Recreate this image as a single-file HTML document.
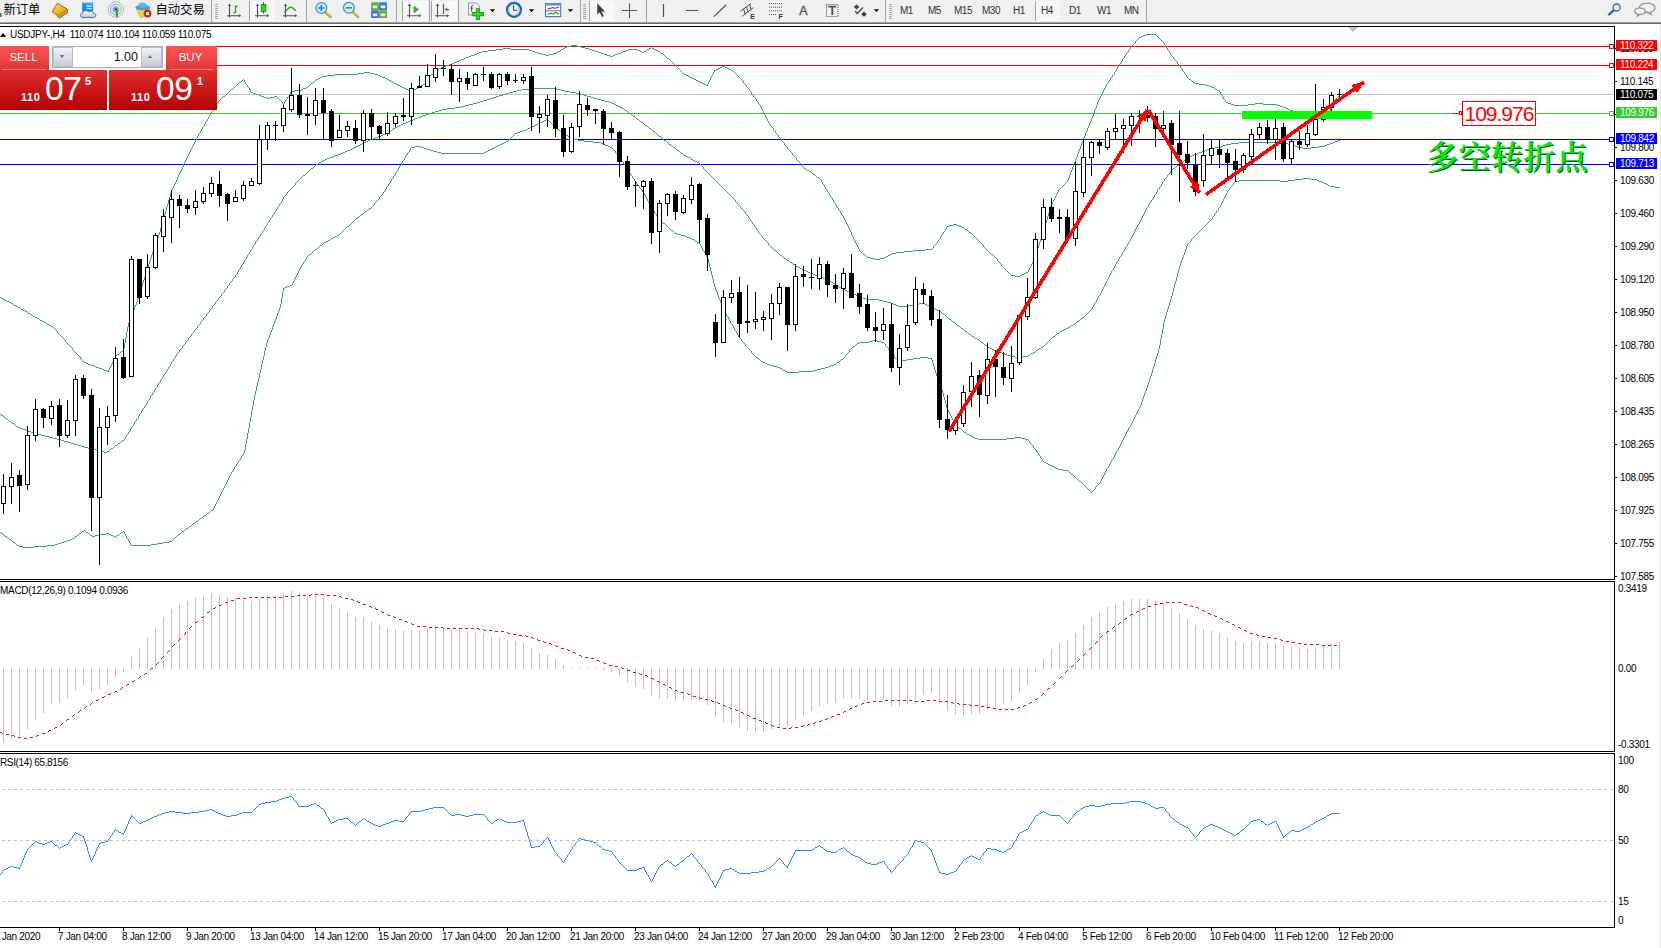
<!DOCTYPE html>
<html><head><meta charset="utf-8"><title>USDJPY-,H4</title>
<style>
html,body{margin:0;padding:0;background:#fff;}
body{width:1661px;height:948px;position:relative;overflow:hidden;font-family:"Liberation Sans","Noto Sans CJK SC",sans-serif;color:#000;}
.abs{position:absolute;white-space:nowrap;}
.ax{position:absolute;white-space:nowrap;font-size:10px;line-height:10px;left:1620px;letter-spacing:-0.3px;}
.tag{position:absolute;left:1616px;width:41px;height:11px;color:#fff;font-size:10px;line-height:11px;text-align:left;padding-left:4px;padding-top:0px;box-sizing:border-box;letter-spacing:-0.3px;white-space:nowrap;}
.tm{position:absolute;top:931px;font-size:10px;line-height:11px;letter-spacing:-0.33px;white-space:nowrap;}
.tf{position:absolute;top:5px;font-size:10px;line-height:11px;letter-spacing:-0.5px;color:#303030;white-space:nowrap;}
#tb{position:absolute;left:0;top:0;width:1661px;height:26px;background:#f0f0f0;}
.sep{position:absolute;top:0px;width:1px;height:22px;background:#a0a0a0;}
.grip{position:absolute;top:3px;width:3px;height:17px;background:repeating-linear-gradient(#f0f0f0 0 1px,#a8a8a8 1px 2px);}
</style></head><body>

<div id="tb">
<div style="position:absolute;left:0;top:22px;width:1661px;height:1px;background:#a0a0a0"></div>
<div style="position:absolute;left:0;top:23px;width:1661px;height:1px;background:#696969"></div>
<div style="position:absolute;left:0;top:24px;width:1661px;height:2px;background:#fff"></div>
<div class="abs" style="left:3.5px;top:2.5px;font-size:12.3px;line-height:14px;">新订单</div>
<div class="abs" style="left:155.5px;top:2.5px;font-size:12.3px;line-height:14px;">自动交易</div>
<div class="sep" style="left:211px"></div>
<div class="sep" style="left:306px"></div>
<div class="sep" style="left:396px"></div>
<div class="sep" style="left:429px"></div>
<div class="sep" style="left:458px"></div>
<div class="sep" style="left:580px"></div>
<div class="sep" style="left:646px"></div>
<div class="sep" style="left:885px"></div>
<div class="sep" style="left:1146px"></div>
<div class="grip" style="left:215px"></div>
<div class="grip" style="left:583px"></div>
<div class="grip" style="left:889px"></div>
<div style="position:absolute;left:249px;top:1px;width:26px;height:20px;background:#f8f8f8;border-left:1px solid #a0a0a0;box-sizing:border-box"></div>
<div style="position:absolute;left:402px;top:1px;width:26px;height:20px;background:#f8f8f8;border-left:1px solid #a0a0a0;box-sizing:border-box"></div>
<div style="position:absolute;left:431px;top:1px;width:26px;height:20px;background:#f8f8f8;border-left:1px solid #a0a0a0;box-sizing:border-box"></div>
<div style="position:absolute;left:589px;top:1px;width:25px;height:20px;background:#f8f8f8;border-left:1px solid #a0a0a0;box-sizing:border-box"></div>
<div style="position:absolute;left:1035px;top:1px;width:25px;height:20px;background:#f8f8f8;border-left:1px solid #a0a0a0;box-sizing:border-box"></div>
<div class="tf" style="left:900px">M1</div>
<div class="tf" style="left:928px">M5</div>
<div class="tf" style="left:954px">M15</div>
<div class="tf" style="left:982px">M30</div>
<div class="tf" style="left:1013px">H1</div>
<div class="tf" style="left:1041px">H4</div>
<div class="tf" style="left:1069px">D1</div>
<div class="tf" style="left:1097px">W1</div>
<div class="tf" style="left:1124px">MN</div>
</div>
<svg class="abs" style="left:0;top:0" width="1661" height="948" viewBox="0 0 1661 948" shape-rendering="crispEdges">
<rect x="0" y="46" width="1614" height="1" fill="#ff0000"/>
<rect x="0" y="65" width="1614" height="1" fill="#ff0000"/>
<rect x="0" y="94" width="1614" height="1" fill="#c0c0c0"/>
<rect x="0" y="113" width="1614" height="1" fill="#32cd32"/>
<rect x="0" y="139" width="1614" height="1" fill="#0000ff"/>
<rect x="0" y="164" width="1614" height="1" fill="#0000ff"/>
<g shape-rendering="crispEdges">
<path d="M0 297.5h1M1 298.5h2M3 299.5h2M5 300.5h2M7 301.5h2M9 302.5h2M11 303.5h2M13 304.5h1M14 305.5h2M16 306.5h2M18 307.5h2M20 308.5h1M21 309.5h2M23 310.5h2M25 311.5h2M27 312.5h1M28 313.5h2M30 314.5h2M32 315.5h1M33 316.5h2M35 317.5h2M37 318.5h2M39 319.5h1M40 320.5h2M42 321.5h2M44 322.5h2M46 323.5h1M47 324.5h2M49 325.5h2M51 326.5h2M53 327.5h1M54 328.5h1M55 329.5h1M56 330.5h1M57.5 331v2M58 333.5h1M59 334.5h1M60 335.5h1M61 336.5h1M62 337.5h1M63 338.5h1M64 339.5h1M65.5 340v2M66 342.5h1M67 343.5h1M68 344.5h1M69 345.5h1M70 346.5h1M71 347.5h1M72.5 348v2M73 350.5h1M74 351.5h1M75 352.5h1M76 353.5h1M77 354.5h1M78 355.5h1M79 356.5h1M80.5 357v2M81 359.5h1M82 360.5h1M83 361.5h1M84 362.5h2M86 363.5h2M88 364.5h3M91 365.5h3M94 366.5h2M96 367.5h3M99 368.5h3M102 369.5h2M104 370.5h3M107 371.5h2M108 370.5h1M109.5 368v2M110.5 366v2M111.5 364v2M112.5 362v2M113.5 360v2M114.5 358v2M115.5 356v2M116 355.5h1M117 354.5h2M119 353.5h1M120 352.5h1M121 351.5h2M123.5 348v3M124.5 343v5M125.5 338v5M126.5 332v6M127.5 327v5M128.5 323v4M129.5 321v2M130.5 318v3M131.5 315v3M132.5 313v2M133.5 310v3M134.5 307v3M135.5 305v2M136.5 302v3M137.5 299v3M138.5 296v3M139.5 293v3M140.5 289v4M141.5 286v3M142.5 283v3M143.5 280v3M144.5 277v3M145.5 273v4M146.5 270v3M147.5 267v3M148.5 264v3M149.5 261v3M150.5 258v3M151.5 255v3M152.5 252v3M153.5 250v2M154.5 247v3M155.5 244v3M156.5 241v3M157.5 238v3M158.5 235v3M159.5 232v3M160.5 228v4M161.5 225v3M162.5 221v4M163.5 218v3M164.5 214v4M165.5 211v3M166.5 207v4M167.5 204v3M168.5 200v4M169.5 197v3M170.5 193v4M171.5 190v3M172.5 188v2M173.5 186v2M174.5 184v2M175.5 182v2M176.5 180v2M177.5 177v3M178.5 175v2M179.5 173v2M180.5 171v2M181.5 169v2M182.5 167v2M183.5 164v3M184.5 162v2M185.5 160v2M186.5 158v2M187.5 156v2M188.5 154v2M189.5 152v2M190.5 150v2M191.5 148v2M192.5 146v2M193.5 144v2M194.5 142v2M195.5 140v2M196.5 138v2M197.5 136v2M198.5 134v2M199 133.5h1M200.5 131v2M201.5 129v2M202.5 127v2M203 126.5h1M204.5 124v2M205.5 122v2M206 121.5h1M207.5 119v2M208.5 117v2M209.5 115v2M210 114.5h1M211.5 112v2M212 111.5h1M213.5 109v2M214 108.5h1M215.5 106v2M216.5 104v2M217 103.5h1M218.5 101v2M219 100.5h1M220 99.5h1M221 98.5h1M222 97.5h1M223 96.5h2M225 95.5h1M226 94.5h1M227 93.5h1M228 92.5h1M229 91.5h1M230 90.5h1M231 89.5h2M233 88.5h1M234 87.5h1M235 86.5h1M236 85.5h1M237 84.5h1M238 83.5h1M239 82.5h2M241 81.5h1M242 80.5h1M243 79.5h1M244.5 80v2M245.5 82v2M246 84.5h1M247.5 85v2M248 87.5h1M249.5 88v2M250.5 90v2M251 92.5h2M253 93.5h3M256 94.5h3M259 95.5h2M261 96.5h3M264 97.5h3M267 98.5h3M270 97.5h4M274 96.5h3M277 97.5h1M278 98.5h1M279 99.5h1M280 100.5h1M281 101.5h1M282.5 102v2M283 104.5h1M284.5 102v2M285.5 100v2M286 99.5h1M287.5 97v2M288 96.5h1M289.5 94v2M290.5 92v2M291 91.5h4M295 90.5h6M301 89.5h2M303 88.5h3M306 87.5h2M308 86.5h1M309 85.5h1M310 84.5h1M311 83.5h2M313 82.5h1M314 81.5h1M315 80.5h1M316 79.5h2M318 78.5h2M320 77.5h2M322 76.5h5M327 75.5h8M335 74.5h23M358 73.5h6M364 72.5h6M370 73.5h4M374 74.5h4M378 75.5h2M380 76.5h2M382 77.5h3M385 78.5h2M387 79.5h2M389 80.5h2M391 81.5h2M393 82.5h1M394 83.5h2M396 84.5h2M398 85.5h2M400 86.5h2M402 87.5h2M404 88.5h2M406 89.5h2M408 90.5h4M412 89.5h4M416 88.5h2M418 87.5h2M420 86.5h1M421 85.5h2M423 84.5h2M425 83.5h1M426.5 81v2M427 80.5h1M428.5 78v2M429.5 76v2M430 75.5h1M431 74.5h2M433 73.5h1M434 72.5h1M435 71.5h2M437 70.5h1M438 69.5h1M439 68.5h2M441 67.5h2M443 66.5h3M446 65.5h3M449 64.5h3M452 63.5h2M454 62.5h3M457 61.5h2M459 60.5h2M461 59.5h3M464 58.5h2M466 57.5h3M469 56.5h2M471 55.5h3M474 54.5h3M477 53.5h2M479 52.5h3M482 51.5h6M488 50.5h8M496 49.5h7M503 48.5h8M511 49.5h18M529 50.5h3M532 51.5h3M535 52.5h3M538 53.5h4M542 54.5h4M546 55.5h3M549 54.5h4M553 53.5h3M556 52.5h2M558 51.5h2M560 50.5h1M561 49.5h2M563 48.5h2M565 47.5h2M567 46.5h4M571 45.5h6M577 46.5h4M581 47.5h4M585 48.5h4M589 49.5h3M592 50.5h3M595 51.5h3M598 52.5h3M601 53.5h3M604 54.5h3M607 55.5h3M610 56.5h3M613 55.5h2M615 54.5h3M618 53.5h3M621 52.5h2M623 51.5h3M626 50.5h2M628 49.5h10M638 50.5h2M640 51.5h2M642 52.5h2M644 51.5h2M646 50.5h1M647 49.5h2M649 48.5h2M651 47.5h1M652 48.5h2M654 49.5h2M656 50.5h2M658 51.5h2M660 52.5h1M661 53.5h2M663 54.5h1M664 55.5h1M665 56.5h1M666 57.5h1M667 58.5h2M669 59.5h1M670 60.5h1M671 61.5h1M672 62.5h1M673 63.5h1M674 64.5h1M675 65.5h1M676 66.5h1M677 67.5h1M678 68.5h1M679 69.5h1M680 70.5h1M681 71.5h1M682 72.5h1M683 73.5h1M684 74.5h2M686 75.5h2M688 76.5h2M690 77.5h2M692 78.5h2M694 79.5h2M696 80.5h2M698 81.5h2M700 82.5h2M702 83.5h2M704 84.5h2M706 85.5h2M707 84.5h1M708.5 82v2M709.5 80v2M710.5 78v2M711.5 76v2M712.5 74v2M713.5 72v2M714.5 70v2M715 70.5h1M716 69.5h2M718 68.5h2M720 67.5h2M722 66.5h3M725 67.5h2M727 68.5h2M729 69.5h2M731 70.5h2M733 71.5h1M734 72.5h1M735 73.5h1M736 74.5h1M737 75.5h1M738 76.5h1M739 77.5h1M740 78.5h1M741 79.5h1M742 80.5h1M743.5 81v2M744 83.5h1M745 84.5h1M746.5 85v2M747 87.5h1M748 88.5h1M749.5 89v2M750 91.5h1M751.5 92v2M752 94.5h1M753.5 95v2M754 97.5h1M755 98.5h1M756.5 99v2M757 101.5h1M758.5 102v2M759 104.5h1M760.5 105v2M761.5 107v2M762.5 109v2M763.5 111v2M764.5 113v2M765.5 115v2M766.5 117v2M767.5 119v2M768.5 121v2M769 123.5h1M770.5 124v2M771 126.5h1M772 127.5h1M773.5 128v2M774 130.5h1M775.5 131v2M776 133.5h1M777 134.5h1M778.5 135v2M779 137.5h1M780 138.5h1M781.5 139v2M782 141.5h1M783 142.5h1M784.5 143v2M785 145.5h1M786 146.5h1M787.5 147v2M788 149.5h1M789 150.5h1M790 151.5h1M791 152.5h1M792.5 153v2M793 155.5h1M794 156.5h1M795 157.5h1M796.5 158v2M797 160.5h1M798 161.5h1M799 162.5h1M800 163.5h1M801.5 164v2M802 166.5h1M803 167.5h1M804 168.5h2M806 169.5h1M807 170.5h2M809 171.5h2M811 172.5h1M812 173.5h1M813 174.5h2M815 175.5h1M816 176.5h1M817 177.5h2M819 178.5h1M820 179.5h1M821.5 180v2M822.5 182v2M823 184.5h1M824.5 185v2M825.5 187v2M826 189.5h1M827.5 190v2M828 192.5h1M829.5 193v2M830.5 195v2M831 197.5h1M832.5 198v2M833.5 200v2M834 202.5h1M835.5 203v2M836.5 205v2M837 207.5h1M838.5 208v2M839 210.5h1M840.5 211v2M841.5 213v2M842 215.5h1M843.5 216v2M844.5 218v2M845.5 220v2M846.5 222v2M847.5 224v2M848.5 226v2M849.5 228v2M850.5 230v2M851.5 232v3M852.5 235v2M853.5 237v2M854.5 239v2M855.5 241v2M856.5 243v2M857.5 245v2M858.5 247v2M859.5 249v2M860 251.5h1M861 252.5h1M862 253.5h1M863 254.5h2M865 255.5h1M866 256.5h1M867 257.5h3M870 258.5h5M875 259.5h5M880 258.5h4M884 257.5h2M886 256.5h2M888 255.5h2M890 254.5h2M892 253.5h4M896 252.5h8M904 251.5h9M913 250.5h12M925 249.5h7M932 248.5h1M933.5 246v2M934 245.5h1M935 244.5h1M936 243.5h1M937.5 241v2M938 240.5h1M939 239.5h1M940.5 237v2M941.5 235v2M942 234.5h1M943.5 232v2M944 231.5h1M945.5 229v2M946.5 227v2M947 226.5h2M949 225.5h4M953 224.5h4M957 225.5h2M959 226.5h3M962 227.5h2M964 228.5h1M965 229.5h2M967 230.5h1M968 231.5h1M969 232.5h2M971 233.5h1M972 234.5h1M973 235.5h1M974 236.5h1M975 237.5h1M976 238.5h1M977 239.5h1M978 240.5h1M979 241.5h1M980 242.5h1M981 243.5h1M982 244.5h1M983.5 245v2M984 247.5h1M985 248.5h1M986 249.5h1M987 250.5h1M988 251.5h1M989 252.5h1M990 253.5h1M991 254.5h2M993 255.5h1M994 256.5h1M995 257.5h1M996 258.5h1M997.5 259v2M998 261.5h1M999 262.5h1M1000 263.5h1M1001.5 264v2M1002 266.5h1M1003 267.5h1M1004 268.5h1M1005 269.5h1M1006 270.5h1M1007 271.5h1M1008 272.5h1M1009 273.5h1M1010 274.5h1M1011 275.5h4M1015 276.5h5M1020 275.5h2M1022 274.5h2M1024 273.5h2M1026 272.5h2M1028.5 270v2M1029.5 268v2M1030.5 266v2M1031.5 264v2M1032.5 262v2M1033.5 259v3M1034.5 256v3M1035.5 254v2M1036.5 251v3M1037.5 248v3M1038.5 245v3M1039.5 242v3M1040.5 239v3M1041.5 236v3M1042.5 233v3M1043.5 230v3M1044.5 226v4M1045.5 223v3M1046.5 220v3M1047.5 216v4M1048.5 213v3M1049.5 210v3M1050.5 206v4M1051.5 204v2M1052.5 202v2M1053.5 200v2M1054.5 198v2M1055.5 196v2M1056.5 194v2M1057.5 192v2M1058.5 190v2M1059 189.5h1M1060 188.5h1M1061 187.5h1M1062 186.5h1M1063 185.5h1M1064 184.5h1M1065 183.5h1M1066 182.5h1M1067.5 180v2M1068.5 178v2M1069.5 175v3M1070.5 172v3M1071.5 170v2M1072.5 167v3M1073.5 164v3M1074.5 162v2M1075.5 159v3M1076.5 157v2M1077.5 154v3M1078.5 151v3M1079.5 149v2M1080.5 146v3M1081.5 143v3M1082.5 141v2M1083.5 138v3M1084.5 136v2M1085.5 133v3M1086.5 131v2M1087.5 128v3M1088.5 126v2M1089.5 123v3M1090.5 121v2M1091.5 118v3M1092.5 116v2M1093.5 113v3M1094.5 110v3M1095.5 108v2M1096.5 105v3M1097.5 102v3M1098.5 100v2M1099.5 98v2M1100.5 96v2M1101.5 94v2M1102.5 92v2M1103.5 90v2M1104.5 88v2M1105.5 86v2M1106.5 84v2M1107 83.5h1M1108.5 81v2M1109 80.5h1M1110.5 78v2M1111 77.5h1M1112.5 75v2M1113 74.5h1M1114.5 72v2M1115 71.5h1M1116.5 69v2M1117.5 67v2M1118 66.5h1M1119.5 64v2M1120 63.5h1M1121.5 61v2M1122.5 59v2M1123 58.5h1M1124.5 56v2M1125 55.5h1M1126.5 53v2M1127 52.5h1M1128.5 50v2M1129 49.5h1M1130.5 47v2M1131 46.5h1M1132 45.5h1M1133 44.5h1M1134 43.5h1M1135.5 41v2M1136 40.5h1M1137 39.5h1M1138 38.5h1M1139 37.5h2M1141 36.5h2M1143 35.5h3M1146 34.5h10M1156 35.5h1M1157 36.5h1M1158 37.5h1M1159 38.5h1M1160 39.5h1M1161 40.5h1M1162 41.5h1M1163 42.5h1M1164.5 43v2M1165.5 45v2M1166 47.5h1M1167.5 48v2M1168 50.5h1M1169.5 51v2M1170.5 53v2M1171 55.5h1M1172 56.5h1M1173.5 57v2M1174 59.5h1M1175 60.5h1M1176 61.5h1M1177.5 62v2M1178 64.5h1M1179 65.5h1M1180.5 66v2M1181 68.5h1M1182.5 69v2M1183 71.5h1M1184.5 72v2M1185 74.5h1M1186.5 75v2M1187 77.5h1M1188 78.5h1M1189 79.5h2M1191 80.5h1M1192 81.5h1M1193 82.5h2M1195 83.5h4M1199 84.5h6M1205 85.5h4M1209 86.5h3M1212 87.5h2M1214 88.5h1M1215 89.5h2M1217 90.5h2M1219 91.5h1M1220.5 92v2M1221 94.5h1M1222.5 95v2M1223.5 97v2M1224 99.5h1M1225.5 100v2M1226 102.5h2M1228 103.5h3M1231 104.5h3M1234 105.5h14M1248 104.5h7M1255 103.5h8M1263 104.5h14M1277 105.5h3M1280 106.5h3M1283 107.5h3M1286 108.5h2M1288 109.5h2M1290 110.5h3M1293 111.5h4M1297 112.5h4M1301 113.5h11M1312 114.5h11M1323 113.5h4M1327 112.5h3M1329 111.5h1M1330.5 108v3M1331.5 106v2M1332.5 104v2M1333.5 102v2M1334.5 100v2M1335 99.5h1M1336 98.5h1M1337 97.5h1M1338 96.5h1M1339 95.5h1" fill="none" stroke="#2fab64" stroke-width="1"/>
<path d="M0 414.5h1M1 415.5h2M3 416.5h1M4 417.5h1M5 418.5h2M7 419.5h1M8 420.5h1M9 421.5h2M11 422.5h1M12 423.5h2M14 424.5h1M15 425.5h1M16 426.5h2M18 427.5h2M20 428.5h3M23 429.5h3M26 430.5h2M28 431.5h3M31 432.5h3M34 433.5h3M37 434.5h4M41 435.5h4M45 436.5h4M49 437.5h4M53 438.5h4M57 439.5h4M61 440.5h3M64 441.5h4M68 442.5h3M71 443.5h3M74 444.5h4M78 445.5h3M81 446.5h3M84 447.5h4M88 448.5h4M92 449.5h4M96 450.5h4M100 451.5h4M104 452.5h3M107 451.5h2M109 450.5h1M110 449.5h1M111 448.5h2M113 447.5h1M114 446.5h1M115 445.5h2M117 444.5h1M118 443.5h2M120 442.5h1M121 441.5h1M122 440.5h2M124 439.5h1M125.5 437v2M126.5 435v2M127 434.5h1M128.5 432v2M129 431.5h1M130.5 429v2M131.5 427v2M132 426.5h1M133.5 424v2M134.5 422v2M135 421.5h1M136.5 419v2M137 418.5h1M138.5 416v2M139.5 414v2M140 413.5h1M141.5 411v2M142.5 409v2M143 408.5h1M144.5 406v2M145 405.5h1M146.5 403v2M147.5 401v2M148 400.5h1M149.5 398v2M150.5 396v2M151 395.5h1M152.5 393v2M153 392.5h1M154.5 390v2M155.5 388v2M156 387.5h1M157.5 385v2M158.5 383v2M159 382.5h1M160.5 380v2M161 379.5h1M162.5 377v2M163.5 375v2M164 374.5h1M165.5 372v2M166 371.5h1M167.5 369v2M168.5 367v2M169 366.5h1M170.5 364v2M171.5 362v2M172 361.5h1M173.5 359v2M174 358.5h1M175.5 356v2M176.5 354v2M177 353.5h1M178 352.5h1M179.5 350v2M180 349.5h1M181 348.5h1M182.5 346v2M183 345.5h1M184 344.5h1M185.5 342v2M186 341.5h1M187 340.5h1M188.5 338v2M189 337.5h1M190 336.5h1M191.5 334v2M192 333.5h1M193 332.5h1M194.5 330v2M195 329.5h1M196 328.5h1M197.5 326v2M198 325.5h1M199 324.5h1M200.5 322v2M201 321.5h1M202 320.5h1M203.5 318v2M204 317.5h1M205 316.5h1M206.5 314v2M207 313.5h1M208 312.5h1M209.5 310v2M210 309.5h1M211 308.5h1M212.5 306v2M213 305.5h1M214 304.5h1M215.5 302v2M216 301.5h1M217 300.5h1M218.5 298v2M219 297.5h1M220 296.5h1M221.5 294v2M222 293.5h1M223 292.5h1M224.5 290v2M225 289.5h1M226 288.5h1M227.5 286v2M228 285.5h1M229.5 283v2M230 282.5h1M231 281.5h1M232.5 279v2M233 278.5h1M234 277.5h1M235.5 275v2M236 274.5h1M237.5 272v2M238.5 270v2M239 269.5h1M240.5 267v2M241.5 265v2M242 264.5h1M243.5 262v2M244.5 260v2M245 259.5h1M246.5 257v2M247.5 255v2M248 254.5h1M249.5 252v2M250.5 250v2M251 249.5h1M252.5 247v2M253.5 245v2M254 244.5h1M255.5 242v2M256 241.5h1M257.5 239v2M258.5 237v2M259 236.5h1M260.5 234v2M261 233.5h1M262.5 231v2M263 230.5h1M264.5 228v2M265.5 226v2M266 225.5h1M267.5 223v2M268 222.5h1M269.5 220v2M270.5 218v2M271 217.5h1M272.5 215v2M273 214.5h1M274.5 212v2M275 211.5h1M276.5 209v2M277.5 207v2M278 206.5h1M279.5 204v2M280 203.5h1M281.5 201v2M282.5 199v2M283.5 197v2M284 196.5h1M285 195.5h1M286 194.5h1M287.5 192v2M288 191.5h1M289 190.5h1M290 189.5h1M291 188.5h1M292 187.5h1M293 186.5h1M294 185.5h1M295.5 183v2M296 182.5h1M297 181.5h1M298 180.5h1M299 179.5h1M300 178.5h1M301 177.5h1M302 176.5h1M303 175.5h2M305 174.5h1M306 173.5h1M307 172.5h1M308 171.5h1M309 170.5h1M310 169.5h1M311 168.5h2M313 167.5h1M314 166.5h1M315 165.5h1M316 164.5h2M318 163.5h1M319 162.5h2M321 161.5h2M323 160.5h2M325 159.5h2M327 158.5h3M330 157.5h3M333 156.5h2M335 155.5h3M338 154.5h3M341 153.5h2M343 152.5h2M345 151.5h2M347 150.5h3M350 149.5h2M352 148.5h2M354 147.5h2M356 146.5h2M358 145.5h2M360 144.5h2M362 143.5h2M364 142.5h2M366 141.5h2M368 140.5h2M370 139.5h3M373 138.5h2M375 137.5h3M378 136.5h3M381 135.5h2M383 134.5h3M386 133.5h2M388 132.5h1M389 131.5h2M391 130.5h1M392 129.5h1M393 128.5h2M395 127.5h2M397 126.5h2M399 125.5h2M401 124.5h2M403 123.5h3M406 122.5h2M408 121.5h2M410 120.5h3M413 119.5h2M415 118.5h3M418 117.5h3M421 116.5h2M423 115.5h3M426 114.5h3M429 113.5h3M432 112.5h3M435 111.5h4M439 110.5h3M442 109.5h5M447 108.5h8M455 107.5h6M461 106.5h4M465 105.5h4M469 104.5h4M473 103.5h4M477 102.5h3M480 101.5h3M483 100.5h4M487 99.5h3M490 98.5h3M493 97.5h3M496 96.5h3M499 95.5h4M503 94.5h3M506 93.5h3M509 92.5h4M513 91.5h4M517 90.5h4M521 89.5h9M530 88.5h27M557 89.5h4M561 90.5h4M565 91.5h5M570 92.5h6M576 93.5h5M581 94.5h3M584 95.5h3M587 96.5h4M591 97.5h3M594 98.5h3M597 99.5h4M601 100.5h4M605 101.5h4M609 102.5h3M612 103.5h2M614 104.5h2M616 105.5h2M618 106.5h2M620 107.5h2M622 108.5h2M624 109.5h1M625 110.5h2M627 111.5h1M628 112.5h1M629 113.5h2M631 114.5h1M632 115.5h1M633 116.5h2M635 117.5h1M636 118.5h1M637 119.5h2M639 120.5h1M640 121.5h1M641 122.5h2M643 123.5h1M644 124.5h1M645 125.5h2M647 126.5h1M648 127.5h1M649 128.5h2M651 129.5h1M652 130.5h1M653 131.5h2M655 132.5h1M656 133.5h1M657 134.5h1M658 135.5h1M659 136.5h2M661 137.5h1M662 138.5h1M663 139.5h1M664 140.5h2M666 141.5h1M667 142.5h1M668 143.5h1M669 144.5h2M671 145.5h1M672 146.5h1M673 147.5h2M675 148.5h1M676 149.5h1M677 150.5h2M679 151.5h1M680 152.5h1M681 153.5h2M683 154.5h1M684 155.5h2M686 156.5h2M688 157.5h2M690 158.5h1M691 159.5h2M693 160.5h2M695 161.5h2M697 162.5h2M699 163.5h1M700 164.5h1M701 165.5h1M702 166.5h1M703.5 167v2M704 169.5h1M705 170.5h1M706 171.5h1M707 172.5h1M708 173.5h1M709 174.5h1M710 175.5h1M711 176.5h1M712 177.5h1M713 178.5h1M714 179.5h1M715 180.5h1M716 181.5h1M717 182.5h1M718 183.5h1M719 184.5h1M720 185.5h1M721 186.5h1M722 187.5h1M723 188.5h1M724 189.5h1M725 190.5h1M726 191.5h1M727 192.5h1M728 193.5h1M729 194.5h1M730 195.5h1M731 196.5h1M732 197.5h1M733 198.5h1M734 199.5h1M735.5 200v2M736 202.5h1M737 203.5h1M738 204.5h1M739 205.5h1M740.5 206v2M741 208.5h1M742 209.5h1M743 210.5h1M744 211.5h1M745.5 212v2M746 214.5h1M747 215.5h1M748.5 216v2M749 218.5h1M750.5 219v2M751 221.5h1M752.5 222v2M753 224.5h1M754.5 225v2M755 227.5h1M756.5 228v2M757 230.5h1M758.5 231v2M759 233.5h1M760 234.5h1M761 235.5h1M762.5 236v2M763 238.5h1M764 239.5h1M765 240.5h1M766 241.5h1M767 242.5h1M768.5 243v2M769 245.5h1M770 246.5h1M771 247.5h1M772 248.5h1M773 249.5h1M774 250.5h2M776 251.5h1M777 252.5h1M778 253.5h1M779 254.5h1M780 255.5h2M782 256.5h1M783 257.5h1M784 258.5h2M786 259.5h1M787 260.5h2M789 261.5h1M790 262.5h2M792 263.5h1M793 264.5h2M795 265.5h1M796 266.5h2M798 267.5h2M800 268.5h2M802 269.5h2M804 270.5h2M806 271.5h2M808 272.5h2M810 273.5h3M813 274.5h2M815 275.5h3M818 276.5h3M821 277.5h2M823 278.5h3M826 279.5h2M828 280.5h2M830 281.5h1M831 282.5h2M833 283.5h2M835 284.5h1M836 285.5h2M838 286.5h1M839 287.5h2M841 288.5h2M843 289.5h2M845 290.5h2M847 291.5h2M849 292.5h2M851 293.5h3M854 294.5h2M856 295.5h2M858 296.5h3M861 297.5h2M863 298.5h3M866 299.5h13M879 300.5h4M883 301.5h4M887 302.5h4M891 303.5h2M893 304.5h3M896 305.5h2M898 306.5h11M909 305.5h4M913 304.5h6M919 303.5h6M925 304.5h2M927 305.5h3M930 306.5h2M932 307.5h2M934 308.5h1M935 309.5h2M937 310.5h2M939 311.5h2M941 312.5h1M942 313.5h1M943 314.5h2M945 315.5h1M946 316.5h1M947 317.5h1M948 318.5h1M949 319.5h2M951 320.5h1M952 321.5h1M953 322.5h2M955 323.5h1M956 324.5h1M957 325.5h2M959 326.5h1M960 327.5h1M961 328.5h2M963 329.5h1M964 330.5h1M965 331.5h2M967 332.5h1M968 333.5h1M969 334.5h2M971 335.5h1M972 336.5h2M974 337.5h1M975 338.5h2M977 339.5h2M979 340.5h1M980 341.5h1M981 342.5h2M983 343.5h1M984 344.5h1M985 345.5h2M987 346.5h1M988 347.5h2M990 348.5h2M992 349.5h2M994 350.5h3M997 351.5h2M999 352.5h3M1002 353.5h3M1005 354.5h2M1007 355.5h3M1010 356.5h5M1015 357.5h8M1023 356.5h5M1028 355.5h2M1030 354.5h1M1031 353.5h2M1033 352.5h2M1035 351.5h1M1036 350.5h2M1038 349.5h1M1039 348.5h2M1041 347.5h2M1043 346.5h1M1044 345.5h1M1045 344.5h1M1046 343.5h1M1047 342.5h1M1048 341.5h1M1049 340.5h1M1050 339.5h1M1051 338.5h1M1052 337.5h1M1053 336.5h2M1055 335.5h1M1056 334.5h1M1057 333.5h2M1059 332.5h1M1060 331.5h2M1062 330.5h2M1064 329.5h2M1066 328.5h2M1068 327.5h2M1070 326.5h1M1071 325.5h2M1073 324.5h2M1075 323.5h1M1076 322.5h1M1077 321.5h2M1079 320.5h1M1080 319.5h1M1081 318.5h2M1083 317.5h1M1084 316.5h1M1085 315.5h1M1086 314.5h1M1087 313.5h1M1088 312.5h1M1089 311.5h1M1090 310.5h1M1091 309.5h1M1092.5 307v2M1093.5 305v2M1094.5 303v2M1095 302.5h1M1096.5 300v2M1097.5 298v2M1098.5 296v2M1099 295.5h1M1100.5 293v2M1101.5 291v2M1102.5 289v2M1103.5 287v2M1104.5 285v2M1105.5 283v2M1106.5 281v2M1107.5 279v2M1108.5 277v2M1109.5 275v2M1110.5 273v2M1111.5 271v2M1112 270.5h1M1113.5 268v2M1114.5 266v2M1115.5 264v2M1116.5 262v2M1117 261.5h1M1118.5 259v2M1119.5 257v2M1120 256.5h1M1121.5 254v2M1122.5 252v2M1123 251.5h1M1124.5 249v2M1125.5 247v2M1126 246.5h1M1127.5 244v2M1128.5 242v2M1129 241.5h1M1130.5 239v2M1131.5 237v2M1132.5 235v2M1133.5 233v2M1134.5 231v2M1135.5 229v2M1136.5 227v2M1137.5 225v2M1138 224.5h1M1139.5 222v2M1140.5 220v2M1141.5 218v2M1142.5 216v2M1143.5 214v2M1144.5 212v2M1145.5 210v2M1146.5 208v2M1147 207.5h1M1148.5 205v2M1149.5 203v2M1150 202.5h1M1151.5 200v2M1152 199.5h1M1153.5 197v2M1154.5 195v2M1155 194.5h1M1156.5 192v2M1157.5 190v2M1158 189.5h1M1159.5 187v2M1160 186.5h1M1161.5 184v2M1162.5 182v2M1163 181.5h1M1164.5 179v2M1165 178.5h1M1166 177.5h1M1167.5 175v2M1168 174.5h1M1169 173.5h1M1170.5 171v2M1171 170.5h1M1172 169.5h1M1173 168.5h2M1175 167.5h1M1176 166.5h1M1177 165.5h2M1179 164.5h1M1180 163.5h1M1181 162.5h2M1183 161.5h1M1184 160.5h1M1185 159.5h2M1187 158.5h1M1188 157.5h2M1190 156.5h2M1192 155.5h2M1194 154.5h3M1197 153.5h2M1199 152.5h3M1202 151.5h3M1205 150.5h2M1207 149.5h3M1210 148.5h5M1215 147.5h6M1221 146.5h2M1223 145.5h3M1226 144.5h5M1231 143.5h8M1239 142.5h41M1280 143.5h8M1288 144.5h5M1293 145.5h2M1295 146.5h3M1298 147.5h5M1303 148.5h8M1311 147.5h8M1319 146.5h6M1325 145.5h2M1327 144.5h3M1330 143.5h3M1333 142.5h2M1335 141.5h3M1338 140.5h2" fill="none" stroke="#2fab64" stroke-width="1"/>
<path d="M0 532.5h1M1 533.5h2M3 534.5h1M4 535.5h1M5 536.5h2M7 537.5h1M8 538.5h1M9 539.5h2M11 540.5h1M12 541.5h1M13 542.5h2M15 543.5h1M16 544.5h1M17 545.5h2M19 546.5h4M23 547.5h11M34 546.5h13M47 545.5h8M55 544.5h3M58 543.5h3M61 542.5h3M64 541.5h3M67 540.5h3M70 539.5h2M72 538.5h2M74 537.5h1M75 536.5h2M77 535.5h1M78 534.5h1M79 533.5h2M81 532.5h1M82 531.5h2M84 530.5h1M85 531.5h1M86 532.5h2M88 533.5h1M89 534.5h1M90 535.5h2M92 536.5h3M95 535.5h5M100 534.5h6M106 533.5h3M109 534.5h2M111 535.5h2M113 536.5h2M115 537.5h1M116 536.5h1M117 535.5h2M119 534.5h1M120 533.5h1M121 532.5h2M123 531.5h1M124.5 532v2M125.5 534v2M126.5 536v2M127 538.5h1M128.5 539v2M129.5 541v2M130.5 543v2M131 545.5h20M151 544.5h6M157 543.5h6M163 542.5h6M169 541.5h3M172 540.5h1M173 539.5h1M174 538.5h1M175 537.5h1M176 536.5h1M177 535.5h1M178 534.5h2M180 533.5h1M181 532.5h1M182 531.5h2M184 530.5h1M185 529.5h1M186 528.5h2M188 527.5h1M189 526.5h2M191 525.5h1M192 524.5h1M193 523.5h2M195 522.5h1M196 521.5h2M198 520.5h1M199 519.5h1M200 518.5h2M202 517.5h1M203 516.5h1M204 515.5h2M206 514.5h1M207 513.5h2M209 512.5h1M210 511.5h1M211 510.5h2M213.5 508v2M214.5 506v2M215.5 504v2M216.5 502v2M217.5 500v2M218.5 498v2M219.5 496v2M220.5 494v2M221.5 492v2M222.5 490v2M223.5 488v2M224.5 486v2M225.5 484v2M226.5 482v2M227.5 480v2M228.5 478v2M229.5 476v2M230.5 474v2M231.5 472v2M232 471.5h1M233.5 469v2M234.5 467v2M235 466.5h1M236.5 464v2M237 463.5h1M238.5 461v2M239 460.5h1M240.5 458v2M241.5 456v2M242 455.5h1M243.5 453v2M244.5 450v3M245.5 444v6M246.5 439v5M247.5 433v6M248.5 428v5M249.5 422v6M250.5 417v5M251.5 411v6M252.5 406v5M253.5 400v6M254.5 395v5M255.5 391v4M256.5 386v5M257.5 382v4M258.5 378v4M259.5 373v5M260.5 369v4M261.5 364v5M262.5 360v4M263.5 356v4M264.5 351v5M265.5 347v4M266.5 343v4M267.5 340v3M268.5 338v2M269.5 335v3M270.5 332v3M271.5 330v2M272.5 327v3M273.5 324v3M274.5 321v3M275.5 319v2M276.5 316v3M277.5 313v3M278.5 311v2M279.5 308v3M280.5 304v4M281.5 298v6M282.5 292v6M283.5 288v4M284 288.5h1M285 287.5h2M287 286.5h3M290 285.5h2M292.5 283v2M293.5 281v2M294.5 279v2M295.5 277v2M296.5 275v2M297.5 273v2M298.5 271v2M299.5 269v2M300.5 267v2M301.5 265v2M302 264.5h1M303.5 262v2M304 261.5h1M305.5 259v2M306.5 257v2M307 256.5h1M308 255.5h1M309 254.5h2M311 253.5h1M312 252.5h1M313 251.5h1M314 250.5h1M315 249.5h2M317 248.5h1M318 247.5h1M319 246.5h1M320 245.5h2M322 244.5h1M323 243.5h1M324 242.5h2M326 241.5h2M328 240.5h2M330 239.5h1M331 238.5h2M333 237.5h2M335 236.5h2M337 235.5h2M339 234.5h1M340 233.5h1M341 232.5h1M342 231.5h1M343 230.5h1M344 229.5h1M345 228.5h1M346 227.5h1M347 226.5h2M349 225.5h1M350 224.5h1M351 223.5h1M352 222.5h1M353 221.5h1M354 220.5h1M355 219.5h1M356 218.5h1M357 217.5h2M359 216.5h1M360 215.5h1M361 214.5h2M363 213.5h1M364 212.5h1M365 211.5h2M367 210.5h1M368 209.5h1M369 208.5h2M371 207.5h1M372 206.5h1M373 205.5h1M374.5 203v2M375 202.5h1M376 201.5h1M377 200.5h1M378 199.5h1M379.5 197v2M380 196.5h1M381 195.5h1M382 194.5h1M383.5 192v2M384 191.5h1M385.5 189v2M386.5 187v2M387 186.5h1M388.5 184v2M389 183.5h1M390.5 181v2M391.5 179v2M392 178.5h1M393.5 176v2M394 175.5h1M395.5 173v2M396.5 171v2M397 170.5h1M398.5 168v2M399.5 166v2M400 165.5h1M401.5 163v2M402.5 161v2M403 160.5h1M404.5 158v2M405.5 156v2M406 155.5h1M407.5 153v2M408 152.5h1M409.5 150v2M410.5 148v2M411 147.5h4M415 146.5h6M421 147.5h3M424 148.5h3M427 149.5h3M430 150.5h3M433 151.5h4M437 152.5h4M441 153.5h43M484 152.5h2M486 151.5h2M488 150.5h2M490 149.5h2M492 148.5h2M494 147.5h2M496 146.5h2M498 145.5h2M500 144.5h2M502 143.5h2M504 142.5h2M506 141.5h2M508 140.5h1M509 139.5h1M510 138.5h1M511 137.5h1M512 136.5h1M513 135.5h1M514 134.5h1M515 133.5h2M517 132.5h3M520 131.5h3M523 130.5h3M526 129.5h2M528 128.5h2M530 127.5h2M532 126.5h2M534 125.5h2M536 124.5h2M538 123.5h2M540 122.5h2M542 121.5h2M544 120.5h2M546 119.5h2M548 120.5h1M549 121.5h1M550 122.5h1M551 123.5h1M552 124.5h1M553 125.5h1M554 126.5h1M555 127.5h1M556 128.5h1M557 129.5h2M559 130.5h1M560 131.5h1M561 132.5h2M563 133.5h1M564 134.5h2M566 135.5h2M568 136.5h2M570 137.5h2M572 138.5h2M574 139.5h4M578 140.5h6M584 141.5h9M593 142.5h8M601 143.5h2M603 144.5h2M605 145.5h3M608 146.5h2M610 147.5h2M612 148.5h1M613 149.5h1M614 150.5h1M615.5 151v2M616 153.5h1M617 154.5h1M618 155.5h1M619 156.5h1M620.5 157v2M621.5 159v2M622 161.5h1M623.5 162v2M624 164.5h1M625.5 165v2M626.5 167v2M627 169.5h1M628.5 170v2M629 172.5h1M630.5 173v2M631 175.5h1M632.5 176v2M633 178.5h1M634.5 179v2M635 181.5h1M636.5 182v2M637 184.5h1M638 185.5h1M639.5 186v2M640 188.5h1M641 189.5h1M642.5 190v2M643 192.5h1M644.5 193v2M645.5 195v2M646.5 197v2M647.5 199v2M648.5 201v2M649.5 203v2M650.5 205v2M651 207.5h1M652.5 208v2M653 210.5h1M654.5 211v2M655 213.5h1M656.5 214v2M657 216.5h1M658.5 217v2M659 219.5h1M660 220.5h1M661 221.5h1M662 222.5h1M663 223.5h2M665 224.5h1M666 225.5h1M667 226.5h1M668 227.5h1M669 228.5h1M670 229.5h1M671 230.5h2M673 231.5h1M674 232.5h1M675 233.5h2M677 234.5h4M681 235.5h4M685 236.5h2M687 237.5h3M690 238.5h2M692 239.5h2M694 240.5h1M695 241.5h2M697 242.5h2M699 243.5h1M700.5 244v2M701.5 246v2M702.5 248v2M703 250.5h1M704.5 251v2M705.5 253v2M706.5 255v2M707.5 257v2M708.5 259v4M709.5 263v4M710.5 267v4M711.5 271v4M712.5 275v4M713.5 279v4M714.5 283v4M715.5 287v3M716.5 290v2M717.5 292v3M718.5 295v3M719.5 298v2M720.5 300v3M721.5 303v3M722.5 306v2M723.5 308v2M724.5 310v2M725.5 312v2M726.5 314v2M727 316.5h1M728.5 317v2M729.5 319v2M730.5 321v2M731 323.5h1M732.5 324v2M733.5 326v2M734.5 328v2M735 330.5h1M736.5 331v2M737.5 333v2M738.5 335v2M739 337.5h1M740 338.5h1M741.5 339v2M742 341.5h1M743 342.5h1M744 343.5h1M745.5 344v2M746 346.5h1M747 347.5h1M748 348.5h1M749 349.5h1M750 350.5h1M751.5 351v2M752 353.5h1M753 354.5h1M754 355.5h1M755 356.5h1M756 357.5h1M757 358.5h2M759 359.5h1M760 360.5h1M761 361.5h2M763 362.5h2M765 363.5h2M767 364.5h3M770 365.5h3M773 366.5h4M777 367.5h3M780 368.5h2M782 369.5h1M783 370.5h2M785 371.5h2M787 372.5h12M799 371.5h14M813 370.5h4M817 369.5h4M821 368.5h4M825 367.5h4M829 366.5h2M831 365.5h3M834 364.5h2M836 363.5h1M837 362.5h2M839 361.5h1M840 360.5h1M841 359.5h2M843 358.5h1M844 357.5h1M845.5 355v2M846 354.5h1M847 353.5h1M848 352.5h1M849.5 350v2M850 349.5h1M851 348.5h1M852 347.5h1M853 346.5h2M855 345.5h1M856 344.5h1M857 343.5h2M859 342.5h10M869 341.5h4M873 340.5h4M877 341.5h4M881 342.5h3M884 343.5h1M885.5 344v2M886 346.5h1M887 347.5h1M888.5 348v2M889 350.5h1M890 351.5h1M891.5 352v2M892 354.5h1M893 355.5h1M894.5 356v2M895 358.5h3M898 359.5h4M902 360.5h5M907 359.5h6M913 358.5h7M920 357.5h8M928 358.5h4M931 359.5h1M932.5 360v3M933.5 363v3M934.5 366v4M935.5 370v3M936.5 373v3M937.5 376v3M938.5 379v3M939.5 382v2M940.5 384v3M941.5 387v3M942.5 390v3M943.5 393v4M944.5 397v3M945.5 400v4M946.5 404v4M947.5 408v2M948.5 410v2M949.5 412v2M950.5 414v2M951.5 416v2M952.5 418v2M953.5 420v2M954.5 422v2M955 424.5h1M956 425.5h1M957 426.5h1M958 427.5h1M959 428.5h2M961 429.5h1M962 430.5h1M963 431.5h1M964 432.5h2M966 433.5h1M967 434.5h2M969 435.5h2M971 436.5h2M973 437.5h2M975 438.5h3M978 439.5h29M1007 438.5h8M1015 437.5h6M1021 438.5h4M1025 439.5h3M1028 440.5h1M1029.5 441v2M1030 443.5h1M1031 444.5h1M1032 445.5h1M1033.5 446v2M1034 448.5h1M1035 449.5h1M1036.5 450v2M1037 452.5h1M1038.5 453v2M1039 455.5h1M1040.5 456v2M1041 458.5h1M1042.5 459v2M1043 461.5h1M1044 462.5h2M1046 463.5h2M1048 464.5h2M1050 465.5h2M1052 466.5h2M1054 467.5h2M1056 468.5h2M1058 469.5h5M1063 470.5h5M1068 471.5h1M1069 472.5h1M1070 473.5h1M1071 474.5h2M1073 475.5h1M1074 476.5h1M1075 477.5h1M1076 478.5h1M1077 479.5h1M1078 480.5h1M1079 481.5h2M1081 482.5h1M1082 483.5h1M1083 484.5h1M1084 485.5h1M1085 486.5h1M1086 487.5h1M1087 488.5h1M1088 489.5h1M1089 490.5h1M1090 491.5h1M1091 492.5h1M1092 491.5h1M1093 490.5h1M1094 489.5h1M1095.5 487v2M1096 486.5h1M1097 485.5h1M1098 484.5h1M1099 483.5h1M1100.5 481v2M1101.5 479v2M1102.5 477v2M1103.5 475v2M1104.5 473v2M1105.5 471v2M1106.5 469v2M1107 468.5h1M1108.5 466v2M1109.5 464v2M1110.5 462v2M1111.5 460v2M1112 459.5h1M1113.5 457v2M1114.5 455v2M1115.5 453v2M1116.5 451v2M1117 450.5h1M1118.5 448v2M1119.5 446v2M1120.5 444v2M1121.5 442v2M1122.5 440v2M1123.5 438v2M1124.5 436v2M1125.5 434v2M1126.5 432v2M1127.5 430v2M1128.5 428v2M1129 427.5h1M1130.5 425v2M1131.5 423v2M1132.5 421v2M1133.5 419v2M1134.5 417v2M1135.5 415v2M1136.5 413v2M1137.5 411v2M1138.5 409v2M1139.5 407v2M1140.5 405v2M1141.5 402v3M1142.5 399v3M1143.5 396v3M1144.5 393v3M1145.5 391v2M1146.5 388v3M1147.5 385v3M1148.5 382v3M1149.5 379v3M1150.5 376v3M1151.5 373v3M1152.5 369v4M1153.5 366v3M1154.5 363v3M1155.5 359v4M1156.5 356v3M1157.5 353v3M1158.5 349v4M1159.5 345v4M1160.5 339v6M1161.5 334v5M1162.5 329v5M1163.5 323v6M1164.5 319v4M1165.5 316v3M1166.5 312v4M1167.5 309v3M1168.5 306v3M1169.5 302v4M1170.5 299v3M1171.5 296v3M1172.5 292v4M1173.5 288v4M1174.5 284v4M1175.5 281v3M1176.5 277v4M1177.5 273v4M1178.5 269v4M1179.5 266v3M1180.5 263v3M1181.5 260v3M1182.5 257v3M1183.5 255v2M1184.5 252v3M1185.5 249v3M1186.5 246v3M1187.5 244v2M1188 243.5h1M1189 242.5h1M1190 241.5h1M1191.5 239v2M1192 238.5h1M1193 237.5h1M1194 236.5h1M1195 235.5h1M1196 234.5h1M1197 233.5h1M1198 232.5h1M1199 231.5h1M1200 230.5h1M1201 229.5h1M1202 228.5h1M1203 227.5h1M1204 226.5h1M1205 225.5h1M1206 224.5h1M1207 223.5h1M1208 222.5h1M1209 221.5h1M1210 220.5h1M1211 219.5h1M1212.5 217v2M1213 216.5h1M1214.5 214v2M1215 213.5h1M1216.5 211v2M1217 210.5h1M1218.5 208v2M1219 207.5h1M1220.5 205v2M1221.5 203v2M1222.5 201v2M1223.5 199v2M1224.5 197v2M1225.5 195v2M1226.5 193v2M1227.5 191v2M1228 190.5h1M1229.5 188v2M1230 187.5h1M1231 186.5h1M1232 185.5h1M1233.5 183v2M1234 182.5h1M1235 181.5h4M1239 180.5h41M1280 181.5h8M1288 180.5h7M1295 179.5h8M1303 178.5h8M1311 179.5h6M1317 180.5h2M1319 181.5h3M1322 182.5h2M1324 183.5h2M1326 184.5h2M1328 185.5h2M1330 186.5h5M1335 187.5h5" fill="none" stroke="#2fab64" stroke-width="1"/>
</g>
<rect x="3" y="474" width="1" height="40" fill="#000"/>
<rect x="1" y="486" width="5" height="18" fill="#000"/>
<rect x="2" y="487" width="3" height="16" fill="#fff"/>
<rect x="11" y="463" width="1" height="41" fill="#000"/>
<rect x="9" y="477" width="5" height="10" fill="#000"/>
<rect x="10" y="478" width="3" height="8" fill="#fff"/>
<rect x="19" y="470" width="1" height="42" fill="#000"/>
<rect x="17" y="475" width="5" height="11" fill="#000"/>
<rect x="27" y="426" width="1" height="64" fill="#000"/>
<rect x="25" y="435" width="5" height="50" fill="#000"/>
<rect x="26" y="436" width="3" height="48" fill="#fff"/>
<rect x="35" y="399" width="1" height="42" fill="#000"/>
<rect x="33" y="409" width="5" height="27" fill="#000"/>
<rect x="34" y="410" width="3" height="25" fill="#fff"/>
<rect x="43" y="408" width="1" height="20" fill="#000"/>
<rect x="41" y="409" width="5" height="9" fill="#000"/>
<rect x="51" y="401" width="1" height="24" fill="#000"/>
<rect x="49" y="406" width="5" height="13" fill="#000"/>
<rect x="50" y="407" width="3" height="11" fill="#fff"/>
<rect x="59" y="399" width="1" height="48" fill="#000"/>
<rect x="57" y="405" width="5" height="31" fill="#000"/>
<rect x="67" y="400" width="1" height="38" fill="#000"/>
<rect x="65" y="420" width="5" height="16" fill="#000"/>
<rect x="66" y="421" width="3" height="14" fill="#fff"/>
<rect x="75" y="375" width="1" height="61" fill="#000"/>
<rect x="73" y="379" width="5" height="42" fill="#000"/>
<rect x="74" y="380" width="3" height="40" fill="#fff"/>
<rect x="83" y="375" width="1" height="24" fill="#000"/>
<rect x="81" y="378" width="5" height="18" fill="#000"/>
<rect x="91" y="389" width="1" height="142" fill="#000"/>
<rect x="89" y="395" width="5" height="103" fill="#000"/>
<rect x="99" y="408" width="1" height="157" fill="#000"/>
<rect x="97" y="427" width="5" height="71" fill="#000"/>
<rect x="98" y="428" width="3" height="69" fill="#fff"/>
<rect x="107" y="406" width="1" height="39" fill="#000"/>
<rect x="105" y="416" width="5" height="12" fill="#000"/>
<rect x="106" y="417" width="3" height="10" fill="#fff"/>
<rect x="115" y="347" width="1" height="75" fill="#000"/>
<rect x="113" y="358" width="5" height="58" fill="#000"/>
<rect x="114" y="359" width="3" height="56" fill="#fff"/>
<rect x="123" y="339" width="1" height="40" fill="#000"/>
<rect x="121" y="357" width="5" height="21" fill="#000"/>
<rect x="131" y="256" width="1" height="121" fill="#000"/>
<rect x="129" y="259" width="5" height="118" fill="#000"/>
<rect x="130" y="260" width="3" height="116" fill="#fff"/>
<rect x="139" y="259" width="1" height="45" fill="#000"/>
<rect x="137" y="259" width="5" height="39" fill="#000"/>
<rect x="147" y="254" width="1" height="45" fill="#000"/>
<rect x="145" y="267" width="5" height="30" fill="#000"/>
<rect x="146" y="268" width="3" height="28" fill="#fff"/>
<rect x="155" y="233" width="1" height="36" fill="#000"/>
<rect x="153" y="235" width="5" height="33" fill="#000"/>
<rect x="154" y="236" width="3" height="31" fill="#fff"/>
<rect x="163" y="209" width="1" height="43" fill="#000"/>
<rect x="161" y="216" width="5" height="21" fill="#000"/>
<rect x="162" y="217" width="3" height="19" fill="#fff"/>
<rect x="171" y="190" width="1" height="53" fill="#000"/>
<rect x="169" y="199" width="5" height="19" fill="#000"/>
<rect x="170" y="200" width="3" height="17" fill="#fff"/>
<rect x="179" y="195" width="1" height="33" fill="#000"/>
<rect x="177" y="199" width="5" height="7" fill="#000"/>
<rect x="187" y="199" width="1" height="14" fill="#000"/>
<rect x="185" y="205" width="5" height="4" fill="#000"/>
<rect x="195" y="190" width="1" height="25" fill="#000"/>
<rect x="193" y="201" width="5" height="7" fill="#000"/>
<rect x="194" y="202" width="3" height="5" fill="#fff"/>
<rect x="203" y="187" width="1" height="17" fill="#000"/>
<rect x="201" y="193" width="5" height="9" fill="#000"/>
<rect x="202" y="194" width="3" height="7" fill="#fff"/>
<rect x="211" y="177" width="1" height="20" fill="#000"/>
<rect x="209" y="183" width="5" height="11" fill="#000"/>
<rect x="210" y="184" width="3" height="9" fill="#fff"/>
<rect x="219" y="171" width="1" height="36" fill="#000"/>
<rect x="217" y="184" width="5" height="12" fill="#000"/>
<rect x="227" y="193" width="1" height="28" fill="#000"/>
<rect x="225" y="194" width="5" height="10" fill="#000"/>
<rect x="235" y="190" width="1" height="12" fill="#000"/>
<rect x="233" y="197" width="5" height="5" fill="#000"/>
<rect x="234" y="198" width="3" height="3" fill="#fff"/>
<rect x="243" y="181" width="1" height="20" fill="#000"/>
<rect x="241" y="185" width="5" height="14" fill="#000"/>
<rect x="242" y="186" width="3" height="12" fill="#fff"/>
<rect x="251" y="178" width="1" height="8" fill="#000"/>
<rect x="249" y="181" width="5" height="5" fill="#000"/>
<rect x="250" y="182" width="3" height="3" fill="#fff"/>
<rect x="259" y="125" width="1" height="60" fill="#000"/>
<rect x="257" y="139" width="5" height="45" fill="#000"/>
<rect x="258" y="140" width="3" height="43" fill="#fff"/>
<rect x="267" y="122" width="1" height="28" fill="#000"/>
<rect x="265" y="125" width="5" height="15" fill="#000"/>
<rect x="266" y="126" width="3" height="13" fill="#fff"/>
<rect x="275" y="121" width="1" height="20" fill="#000"/>
<rect x="273" y="125" width="5" height="1" fill="#000"/>
<rect x="283" y="105" width="1" height="27" fill="#000"/>
<rect x="281" y="108" width="5" height="18" fill="#000"/>
<rect x="282" y="109" width="3" height="16" fill="#fff"/>
<rect x="291" y="68" width="1" height="44" fill="#000"/>
<rect x="289" y="95" width="5" height="15" fill="#000"/>
<rect x="290" y="96" width="3" height="13" fill="#fff"/>
<rect x="299" y="84" width="1" height="34" fill="#000"/>
<rect x="297" y="95" width="5" height="20" fill="#000"/>
<rect x="307" y="97" width="1" height="38" fill="#000"/>
<rect x="305" y="114" width="5" height="2" fill="#000"/>
<rect x="315" y="88" width="1" height="37" fill="#000"/>
<rect x="313" y="100" width="5" height="16" fill="#000"/>
<rect x="314" y="101" width="3" height="14" fill="#fff"/>
<rect x="323" y="88" width="1" height="52" fill="#000"/>
<rect x="321" y="100" width="5" height="13" fill="#000"/>
<rect x="331" y="109" width="1" height="38" fill="#000"/>
<rect x="329" y="111" width="5" height="30" fill="#000"/>
<rect x="339" y="115" width="1" height="23" fill="#000"/>
<rect x="337" y="130" width="5" height="8" fill="#000"/>
<rect x="338" y="131" width="3" height="6" fill="#fff"/>
<rect x="347" y="121" width="1" height="16" fill="#000"/>
<rect x="345" y="126" width="5" height="5" fill="#000"/>
<rect x="346" y="127" width="3" height="3" fill="#fff"/>
<rect x="355" y="120" width="1" height="24" fill="#000"/>
<rect x="353" y="128" width="5" height="13" fill="#000"/>
<rect x="363" y="110" width="1" height="42" fill="#000"/>
<rect x="361" y="113" width="5" height="28" fill="#000"/>
<rect x="362" y="114" width="3" height="26" fill="#fff"/>
<rect x="371" y="109" width="1" height="31" fill="#000"/>
<rect x="369" y="113" width="5" height="14" fill="#000"/>
<rect x="379" y="125" width="1" height="15" fill="#000"/>
<rect x="377" y="126" width="5" height="8" fill="#000"/>
<rect x="387" y="112" width="1" height="24" fill="#000"/>
<rect x="385" y="123" width="5" height="11" fill="#000"/>
<rect x="386" y="124" width="3" height="9" fill="#fff"/>
<rect x="395" y="113" width="1" height="14" fill="#000"/>
<rect x="393" y="116" width="5" height="8" fill="#000"/>
<rect x="394" y="117" width="3" height="6" fill="#fff"/>
<rect x="403" y="98" width="1" height="23" fill="#000"/>
<rect x="401" y="115" width="5" height="2" fill="#000"/>
<rect x="411" y="83" width="1" height="42" fill="#000"/>
<rect x="409" y="88" width="5" height="29" fill="#000"/>
<rect x="410" y="89" width="3" height="27" fill="#fff"/>
<rect x="419" y="76" width="1" height="12" fill="#000"/>
<rect x="417" y="86" width="5" height="2" fill="#000"/>
<rect x="427" y="64" width="1" height="23" fill="#000"/>
<rect x="425" y="75" width="5" height="12" fill="#000"/>
<rect x="426" y="76" width="3" height="10" fill="#fff"/>
<rect x="435" y="54" width="1" height="28" fill="#000"/>
<rect x="433" y="68" width="5" height="10" fill="#000"/>
<rect x="434" y="69" width="3" height="8" fill="#fff"/>
<rect x="443" y="60" width="1" height="16" fill="#000"/>
<rect x="441" y="68" width="5" height="1" fill="#000"/>
<rect x="451" y="64" width="1" height="31" fill="#000"/>
<rect x="449" y="69" width="5" height="13" fill="#000"/>
<rect x="459" y="69" width="1" height="33" fill="#000"/>
<rect x="457" y="78" width="5" height="4" fill="#000"/>
<rect x="458" y="79" width="3" height="2" fill="#fff"/>
<rect x="467" y="72" width="1" height="18" fill="#000"/>
<rect x="465" y="78" width="5" height="6" fill="#000"/>
<rect x="475" y="73" width="1" height="13" fill="#000"/>
<rect x="473" y="74" width="5" height="12" fill="#000"/>
<rect x="474" y="75" width="3" height="10" fill="#fff"/>
<rect x="483" y="67" width="1" height="14" fill="#000"/>
<rect x="481" y="74" width="5" height="1" fill="#000"/>
<rect x="491" y="72" width="1" height="17" fill="#000"/>
<rect x="489" y="74" width="5" height="14" fill="#000"/>
<rect x="499" y="73" width="1" height="16" fill="#000"/>
<rect x="497" y="74" width="5" height="13" fill="#000"/>
<rect x="498" y="75" width="3" height="11" fill="#fff"/>
<rect x="507" y="72" width="1" height="13" fill="#000"/>
<rect x="505" y="74" width="5" height="7" fill="#000"/>
<rect x="515" y="74" width="1" height="9" fill="#000"/>
<rect x="513" y="80" width="5" height="1" fill="#000"/>
<rect x="523" y="74" width="1" height="10" fill="#000"/>
<rect x="521" y="77" width="5" height="4" fill="#000"/>
<rect x="522" y="78" width="3" height="2" fill="#fff"/>
<rect x="531" y="67" width="1" height="64" fill="#000"/>
<rect x="529" y="76" width="5" height="41" fill="#000"/>
<rect x="539" y="106" width="1" height="27" fill="#000"/>
<rect x="537" y="114" width="5" height="4" fill="#000"/>
<rect x="538" y="115" width="3" height="2" fill="#fff"/>
<rect x="547" y="95" width="1" height="32" fill="#000"/>
<rect x="545" y="99" width="5" height="17" fill="#000"/>
<rect x="546" y="100" width="3" height="15" fill="#fff"/>
<rect x="555" y="87" width="1" height="50" fill="#000"/>
<rect x="553" y="100" width="5" height="29" fill="#000"/>
<rect x="563" y="115" width="1" height="42" fill="#000"/>
<rect x="561" y="128" width="5" height="24" fill="#000"/>
<rect x="571" y="123" width="1" height="30" fill="#000"/>
<rect x="569" y="127" width="5" height="25" fill="#000"/>
<rect x="570" y="128" width="3" height="23" fill="#fff"/>
<rect x="579" y="91" width="1" height="46" fill="#000"/>
<rect x="577" y="104" width="5" height="23" fill="#000"/>
<rect x="578" y="105" width="3" height="21" fill="#fff"/>
<rect x="587" y="98" width="1" height="18" fill="#000"/>
<rect x="585" y="105" width="5" height="5" fill="#000"/>
<rect x="595" y="109" width="1" height="15" fill="#000"/>
<rect x="593" y="109" width="5" height="2" fill="#000"/>
<rect x="603" y="109" width="1" height="36" fill="#000"/>
<rect x="601" y="111" width="5" height="18" fill="#000"/>
<rect x="611" y="122" width="1" height="18" fill="#000"/>
<rect x="609" y="128" width="5" height="5" fill="#000"/>
<rect x="619" y="131" width="1" height="46" fill="#000"/>
<rect x="617" y="132" width="5" height="30" fill="#000"/>
<rect x="627" y="156" width="1" height="34" fill="#000"/>
<rect x="625" y="161" width="5" height="26" fill="#000"/>
<rect x="635" y="181" width="1" height="26" fill="#000"/>
<rect x="633" y="185" width="5" height="1" fill="#000"/>
<rect x="643" y="180" width="1" height="29" fill="#000"/>
<rect x="641" y="181" width="5" height="6" fill="#000"/>
<rect x="642" y="182" width="3" height="4" fill="#fff"/>
<rect x="651" y="178" width="1" height="66" fill="#000"/>
<rect x="649" y="181" width="5" height="52" fill="#000"/>
<rect x="659" y="200" width="1" height="53" fill="#000"/>
<rect x="657" y="203" width="5" height="29" fill="#000"/>
<rect x="658" y="204" width="3" height="27" fill="#fff"/>
<rect x="667" y="193" width="1" height="23" fill="#000"/>
<rect x="665" y="194" width="5" height="10" fill="#000"/>
<rect x="666" y="195" width="3" height="8" fill="#fff"/>
<rect x="675" y="191" width="1" height="29" fill="#000"/>
<rect x="673" y="194" width="5" height="18" fill="#000"/>
<rect x="683" y="195" width="1" height="19" fill="#000"/>
<rect x="681" y="198" width="5" height="15" fill="#000"/>
<rect x="682" y="199" width="3" height="13" fill="#fff"/>
<rect x="691" y="177" width="1" height="27" fill="#000"/>
<rect x="689" y="185" width="5" height="15" fill="#000"/>
<rect x="690" y="186" width="3" height="13" fill="#fff"/>
<rect x="699" y="183" width="1" height="60" fill="#000"/>
<rect x="697" y="184" width="5" height="36" fill="#000"/>
<rect x="707" y="214" width="1" height="57" fill="#000"/>
<rect x="705" y="218" width="5" height="37" fill="#000"/>
<rect x="715" y="314" width="1" height="43" fill="#000"/>
<rect x="713" y="322" width="5" height="21" fill="#000"/>
<rect x="723" y="290" width="1" height="53" fill="#000"/>
<rect x="721" y="297" width="5" height="46" fill="#000"/>
<rect x="722" y="298" width="3" height="44" fill="#fff"/>
<rect x="731" y="280" width="1" height="23" fill="#000"/>
<rect x="729" y="293" width="5" height="5" fill="#000"/>
<rect x="730" y="294" width="3" height="3" fill="#fff"/>
<rect x="739" y="277" width="1" height="60" fill="#000"/>
<rect x="737" y="292" width="5" height="32" fill="#000"/>
<rect x="747" y="285" width="1" height="48" fill="#000"/>
<rect x="745" y="321" width="5" height="2" fill="#000"/>
<rect x="755" y="292" width="1" height="37" fill="#000"/>
<rect x="753" y="319" width="5" height="3" fill="#000"/>
<rect x="754" y="320" width="3" height="1" fill="#fff"/>
<rect x="763" y="311" width="1" height="20" fill="#000"/>
<rect x="761" y="317" width="5" height="3" fill="#000"/>
<rect x="762" y="318" width="3" height="1" fill="#fff"/>
<rect x="771" y="294" width="1" height="46" fill="#000"/>
<rect x="769" y="303" width="5" height="16" fill="#000"/>
<rect x="770" y="304" width="3" height="14" fill="#fff"/>
<rect x="779" y="283" width="1" height="32" fill="#000"/>
<rect x="777" y="287" width="5" height="17" fill="#000"/>
<rect x="778" y="288" width="3" height="15" fill="#fff"/>
<rect x="787" y="287" width="1" height="64" fill="#000"/>
<rect x="785" y="287" width="5" height="38" fill="#000"/>
<rect x="795" y="264" width="1" height="67" fill="#000"/>
<rect x="793" y="276" width="5" height="49" fill="#000"/>
<rect x="794" y="277" width="3" height="47" fill="#fff"/>
<rect x="803" y="266" width="1" height="21" fill="#000"/>
<rect x="801" y="274" width="5" height="3" fill="#000"/>
<rect x="811" y="259" width="1" height="30" fill="#000"/>
<rect x="809" y="277" width="5" height="1" fill="#000"/>
<rect x="819" y="257" width="1" height="33" fill="#000"/>
<rect x="817" y="264" width="5" height="15" fill="#000"/>
<rect x="818" y="265" width="3" height="13" fill="#fff"/>
<rect x="827" y="261" width="1" height="36" fill="#000"/>
<rect x="825" y="264" width="5" height="21" fill="#000"/>
<rect x="835" y="274" width="1" height="29" fill="#000"/>
<rect x="833" y="285" width="5" height="4" fill="#000"/>
<rect x="843" y="268" width="1" height="41" fill="#000"/>
<rect x="841" y="273" width="5" height="16" fill="#000"/>
<rect x="842" y="274" width="3" height="14" fill="#fff"/>
<rect x="851" y="254" width="1" height="44" fill="#000"/>
<rect x="849" y="273" width="5" height="25" fill="#000"/>
<rect x="859" y="284" width="1" height="30" fill="#000"/>
<rect x="857" y="293" width="5" height="14" fill="#000"/>
<rect x="867" y="295" width="1" height="36" fill="#000"/>
<rect x="865" y="304" width="5" height="24" fill="#000"/>
<rect x="875" y="312" width="1" height="30" fill="#000"/>
<rect x="873" y="327" width="5" height="4" fill="#000"/>
<rect x="883" y="308" width="1" height="32" fill="#000"/>
<rect x="881" y="324" width="5" height="7" fill="#000"/>
<rect x="882" y="325" width="3" height="5" fill="#fff"/>
<rect x="891" y="303" width="1" height="69" fill="#000"/>
<rect x="889" y="324" width="5" height="44" fill="#000"/>
<rect x="899" y="334" width="1" height="51" fill="#000"/>
<rect x="897" y="348" width="5" height="20" fill="#000"/>
<rect x="898" y="349" width="3" height="18" fill="#fff"/>
<rect x="907" y="304" width="1" height="47" fill="#000"/>
<rect x="905" y="325" width="5" height="23" fill="#000"/>
<rect x="906" y="326" width="3" height="21" fill="#fff"/>
<rect x="915" y="277" width="1" height="48" fill="#000"/>
<rect x="913" y="289" width="5" height="34" fill="#000"/>
<rect x="914" y="290" width="3" height="32" fill="#fff"/>
<rect x="923" y="283" width="1" height="21" fill="#000"/>
<rect x="921" y="289" width="5" height="6" fill="#000"/>
<rect x="931" y="290" width="1" height="36" fill="#000"/>
<rect x="929" y="296" width="5" height="24" fill="#000"/>
<rect x="939" y="310" width="1" height="118" fill="#000"/>
<rect x="937" y="319" width="5" height="101" fill="#000"/>
<rect x="947" y="395" width="1" height="44" fill="#000"/>
<rect x="945" y="419" width="5" height="11" fill="#000"/>
<rect x="955" y="417" width="1" height="18" fill="#000"/>
<rect x="953" y="421" width="5" height="10" fill="#000"/>
<rect x="954" y="422" width="3" height="8" fill="#fff"/>
<rect x="963" y="385" width="1" height="42" fill="#000"/>
<rect x="961" y="392" width="5" height="32" fill="#000"/>
<rect x="962" y="393" width="3" height="30" fill="#fff"/>
<rect x="971" y="362" width="1" height="45" fill="#000"/>
<rect x="969" y="376" width="5" height="16" fill="#000"/>
<rect x="970" y="377" width="3" height="14" fill="#fff"/>
<rect x="979" y="370" width="1" height="47" fill="#000"/>
<rect x="977" y="375" width="5" height="20" fill="#000"/>
<rect x="987" y="343" width="1" height="61" fill="#000"/>
<rect x="985" y="359" width="5" height="37" fill="#000"/>
<rect x="986" y="360" width="3" height="35" fill="#fff"/>
<rect x="995" y="350" width="1" height="47" fill="#000"/>
<rect x="993" y="359" width="5" height="8" fill="#000"/>
<rect x="1003" y="352" width="1" height="33" fill="#000"/>
<rect x="1001" y="367" width="5" height="11" fill="#000"/>
<rect x="1011" y="346" width="1" height="46" fill="#000"/>
<rect x="1009" y="363" width="5" height="16" fill="#000"/>
<rect x="1010" y="364" width="3" height="14" fill="#fff"/>
<rect x="1019" y="315" width="1" height="50" fill="#000"/>
<rect x="1017" y="315" width="5" height="48" fill="#000"/>
<rect x="1018" y="316" width="3" height="46" fill="#fff"/>
<rect x="1027" y="278" width="1" height="42" fill="#000"/>
<rect x="1025" y="297" width="5" height="20" fill="#000"/>
<rect x="1026" y="298" width="3" height="18" fill="#fff"/>
<rect x="1035" y="233" width="1" height="66" fill="#000"/>
<rect x="1033" y="239" width="5" height="59" fill="#000"/>
<rect x="1034" y="240" width="3" height="57" fill="#fff"/>
<rect x="1043" y="199" width="1" height="50" fill="#000"/>
<rect x="1041" y="207" width="5" height="33" fill="#000"/>
<rect x="1042" y="208" width="3" height="31" fill="#fff"/>
<rect x="1051" y="198" width="1" height="24" fill="#000"/>
<rect x="1049" y="207" width="5" height="12" fill="#000"/>
<rect x="1059" y="209" width="1" height="24" fill="#000"/>
<rect x="1057" y="217" width="5" height="2" fill="#000"/>
<rect x="1067" y="209" width="1" height="34" fill="#000"/>
<rect x="1065" y="217" width="5" height="22" fill="#000"/>
<rect x="1075" y="162" width="1" height="84" fill="#000"/>
<rect x="1073" y="191" width="5" height="48" fill="#000"/>
<rect x="1074" y="192" width="3" height="46" fill="#fff"/>
<rect x="1083" y="139" width="1" height="58" fill="#000"/>
<rect x="1081" y="157" width="5" height="36" fill="#000"/>
<rect x="1082" y="158" width="3" height="34" fill="#fff"/>
<rect x="1091" y="141" width="1" height="35" fill="#000"/>
<rect x="1089" y="142" width="5" height="16" fill="#000"/>
<rect x="1090" y="143" width="3" height="14" fill="#fff"/>
<rect x="1099" y="140" width="1" height="14" fill="#000"/>
<rect x="1097" y="142" width="5" height="4" fill="#000"/>
<rect x="1107" y="128" width="1" height="22" fill="#000"/>
<rect x="1105" y="131" width="5" height="17" fill="#000"/>
<rect x="1106" y="132" width="3" height="15" fill="#fff"/>
<rect x="1115" y="114" width="1" height="26" fill="#000"/>
<rect x="1113" y="128" width="5" height="4" fill="#000"/>
<rect x="1114" y="129" width="3" height="2" fill="#fff"/>
<rect x="1123" y="119" width="1" height="34" fill="#000"/>
<rect x="1121" y="125" width="5" height="4" fill="#000"/>
<rect x="1122" y="126" width="3" height="2" fill="#fff"/>
<rect x="1131" y="113" width="1" height="33" fill="#000"/>
<rect x="1129" y="116" width="5" height="10" fill="#000"/>
<rect x="1130" y="117" width="3" height="8" fill="#fff"/>
<rect x="1139" y="110" width="1" height="23" fill="#000"/>
<rect x="1137" y="116" width="5" height="1" fill="#000"/>
<rect x="1147" y="106" width="1" height="16" fill="#000"/>
<rect x="1145" y="115" width="5" height="3" fill="#000"/>
<rect x="1155" y="113" width="1" height="34" fill="#000"/>
<rect x="1153" y="116" width="5" height="13" fill="#000"/>
<rect x="1163" y="111" width="1" height="22" fill="#000"/>
<rect x="1161" y="125" width="5" height="4" fill="#000"/>
<rect x="1162" y="126" width="3" height="2" fill="#fff"/>
<rect x="1171" y="120" width="1" height="55" fill="#000"/>
<rect x="1169" y="123" width="5" height="22" fill="#000"/>
<rect x="1179" y="111" width="1" height="91" fill="#000"/>
<rect x="1177" y="143" width="5" height="12" fill="#000"/>
<rect x="1187" y="141" width="1" height="28" fill="#000"/>
<rect x="1185" y="154" width="5" height="9" fill="#000"/>
<rect x="1195" y="153" width="1" height="43" fill="#000"/>
<rect x="1193" y="165" width="5" height="27" fill="#000"/>
<rect x="1203" y="134" width="1" height="53" fill="#000"/>
<rect x="1201" y="155" width="5" height="26" fill="#000"/>
<rect x="1202" y="156" width="3" height="24" fill="#fff"/>
<rect x="1211" y="139" width="1" height="26" fill="#000"/>
<rect x="1209" y="148" width="5" height="8" fill="#000"/>
<rect x="1210" y="149" width="3" height="6" fill="#fff"/>
<rect x="1219" y="140" width="1" height="28" fill="#000"/>
<rect x="1217" y="149" width="5" height="6" fill="#000"/>
<rect x="1227" y="149" width="1" height="30" fill="#000"/>
<rect x="1225" y="153" width="5" height="10" fill="#000"/>
<rect x="1235" y="149" width="1" height="33" fill="#000"/>
<rect x="1233" y="161" width="5" height="9" fill="#000"/>
<rect x="1243" y="153" width="1" height="20" fill="#000"/>
<rect x="1241" y="155" width="5" height="15" fill="#000"/>
<rect x="1242" y="156" width="3" height="13" fill="#fff"/>
<rect x="1251" y="129" width="1" height="32" fill="#000"/>
<rect x="1249" y="134" width="5" height="23" fill="#000"/>
<rect x="1250" y="135" width="3" height="21" fill="#fff"/>
<rect x="1259" y="123" width="1" height="17" fill="#000"/>
<rect x="1257" y="127" width="5" height="8" fill="#000"/>
<rect x="1258" y="128" width="3" height="6" fill="#fff"/>
<rect x="1267" y="120" width="1" height="24" fill="#000"/>
<rect x="1265" y="127" width="5" height="13" fill="#000"/>
<rect x="1275" y="119" width="1" height="41" fill="#000"/>
<rect x="1273" y="128" width="5" height="12" fill="#000"/>
<rect x="1274" y="129" width="3" height="10" fill="#fff"/>
<rect x="1283" y="123" width="1" height="39" fill="#000"/>
<rect x="1281" y="127" width="5" height="32" fill="#000"/>
<rect x="1291" y="139" width="1" height="26" fill="#000"/>
<rect x="1289" y="141" width="5" height="18" fill="#000"/>
<rect x="1290" y="142" width="3" height="16" fill="#fff"/>
<rect x="1299" y="131" width="1" height="19" fill="#000"/>
<rect x="1297" y="141" width="5" height="4" fill="#000"/>
<rect x="1307" y="125" width="1" height="22" fill="#000"/>
<rect x="1305" y="133" width="5" height="12" fill="#000"/>
<rect x="1306" y="134" width="3" height="10" fill="#fff"/>
<rect x="1315" y="84" width="1" height="52" fill="#000"/>
<rect x="1313" y="119" width="5" height="16" fill="#000"/>
<rect x="1314" y="120" width="3" height="14" fill="#fff"/>
<rect x="1323" y="99" width="1" height="23" fill="#000"/>
<rect x="1321" y="107" width="5" height="13" fill="#000"/>
<rect x="1322" y="108" width="3" height="11" fill="#fff"/>
<rect x="1331" y="92" width="1" height="20" fill="#000"/>
<rect x="1329" y="95" width="5" height="13" fill="#000"/>
<rect x="1330" y="96" width="3" height="11" fill="#fff"/>
<rect x="1339" y="89" width="1" height="9" fill="#000"/>
<rect x="1337" y="94" width="5" height="1" fill="#000"/>
<rect x="1242" y="111" width="130" height="8" fill="#00ff00"/>
<rect x="1609.5" y="44.5" width="4" height="4" fill="#fff" stroke="#ff0000" stroke-width="1"/>
<rect x="1609.5" y="63.5" width="4" height="4" fill="#fff" stroke="#ff0000" stroke-width="1"/>
<rect x="1609.5" y="111.5" width="4" height="4" fill="#fff" stroke="#32cd32" stroke-width="1"/>
<rect x="1609.5" y="137.5" width="4" height="4" fill="#fff" stroke="#0000ff" stroke-width="1"/>
<rect x="1609.5" y="162.5" width="4" height="4" fill="#fff" stroke="#0000ff" stroke-width="1"/>
<line x1="949" y1="431.5" x2="1147" y2="110" stroke="#ff0000" stroke-width="3.6"/>
<polygon points="1147.0,110.0 1145.8,121.6 1137.2,116.3" fill="#ff0000"/>
<line x1="1148.5" y1="110.5" x2="1199.5" y2="193" stroke="#ff0000" stroke-width="3.6"/>
<polygon points="1199.5,193.0 1189.7,186.7 1198.2,181.4" fill="#ff0000"/>
<line x1="1206" y1="194.5" x2="1364" y2="82" stroke="#ff0000" stroke-width="3.6"/>
<polygon points="1364.0,82.0 1357.1,93.0 1351.3,84.9" fill="#ff0000"/>
<polygon points="1348,27 1358,27 1353,32" fill="#c0c0c0" shape-rendering="geometricPrecision"/>
<rect x="1462.5" y="101.5" width="73" height="24" fill="#fff" stroke="#ff0000" stroke-width="1"/>
<rect x="1452" y="113" width="8" height="1" fill="#ff0000"/>
<rect x="1459.5" y="111.5" width="2" height="3" fill="#fff" stroke="#ff0000" stroke-width="1"/>
<rect x="0" y="26" width="1615" height="1" fill="#000"/>
<rect x="0" y="579" width="1615" height="1" fill="#000"/>
<rect x="1614" y="26" width="1" height="554" fill="#000"/>
<rect x="0" y="581" width="1615" height="1" fill="#000"/>
<rect x="0" y="751" width="1615" height="1" fill="#000"/>
<rect x="1614" y="581" width="1" height="171" fill="#000"/>
<rect x="0" y="753" width="1615" height="1" fill="#000"/>
<rect x="0" y="927" width="1615" height="1" fill="#000"/>
<rect x="1614" y="753" width="1" height="175" fill="#000"/>
<rect x="1660" y="24" width="1" height="924" fill="#e3e3e3"/>
<rect x="3" y="668" width="1" height="74" fill="#c0c0c0"/>
<rect x="11" y="668" width="1" height="71" fill="#c0c0c0"/>
<rect x="19" y="668" width="1" height="68" fill="#c0c0c0"/>
<rect x="27" y="668" width="1" height="61" fill="#c0c0c0"/>
<rect x="35" y="668" width="1" height="52" fill="#c0c0c0"/>
<rect x="43" y="668" width="1" height="45" fill="#c0c0c0"/>
<rect x="51" y="668" width="1" height="36" fill="#c0c0c0"/>
<rect x="59" y="668" width="1" height="34" fill="#c0c0c0"/>
<rect x="67" y="668" width="1" height="30" fill="#c0c0c0"/>
<rect x="75" y="668" width="1" height="22" fill="#c0c0c0"/>
<rect x="83" y="668" width="1" height="17" fill="#c0c0c0"/>
<rect x="91" y="668" width="1" height="24" fill="#c0c0c0"/>
<rect x="99" y="668" width="1" height="21" fill="#c0c0c0"/>
<rect x="107" y="668" width="1" height="17" fill="#c0c0c0"/>
<rect x="115" y="668" width="1" height="9" fill="#c0c0c0"/>
<rect x="123" y="668" width="1" height="4" fill="#c0c0c0"/>
<rect x="131" y="656" width="1" height="13" fill="#c0c0c0"/>
<rect x="139" y="648" width="1" height="21" fill="#c0c0c0"/>
<rect x="147" y="638" width="1" height="31" fill="#c0c0c0"/>
<rect x="155" y="628" width="1" height="41" fill="#c0c0c0"/>
<rect x="163" y="618" width="1" height="51" fill="#c0c0c0"/>
<rect x="171" y="609" width="1" height="60" fill="#c0c0c0"/>
<rect x="179" y="604" width="1" height="65" fill="#c0c0c0"/>
<rect x="187" y="601" width="1" height="68" fill="#c0c0c0"/>
<rect x="195" y="598" width="1" height="71" fill="#c0c0c0"/>
<rect x="203" y="596" width="1" height="73" fill="#c0c0c0"/>
<rect x="211" y="594" width="1" height="75" fill="#c0c0c0"/>
<rect x="219" y="595" width="1" height="74" fill="#c0c0c0"/>
<rect x="227" y="597" width="1" height="72" fill="#c0c0c0"/>
<rect x="235" y="598" width="1" height="71" fill="#c0c0c0"/>
<rect x="243" y="600" width="1" height="69" fill="#c0c0c0"/>
<rect x="251" y="602" width="1" height="67" fill="#c0c0c0"/>
<rect x="259" y="599" width="1" height="70" fill="#c0c0c0"/>
<rect x="267" y="596" width="1" height="73" fill="#c0c0c0"/>
<rect x="275" y="595" width="1" height="74" fill="#c0c0c0"/>
<rect x="283" y="593" width="1" height="76" fill="#c0c0c0"/>
<rect x="291" y="591" width="1" height="78" fill="#c0c0c0"/>
<rect x="299" y="592" width="1" height="77" fill="#c0c0c0"/>
<rect x="307" y="594" width="1" height="75" fill="#c0c0c0"/>
<rect x="315" y="595" width="1" height="74" fill="#c0c0c0"/>
<rect x="323" y="598" width="1" height="71" fill="#c0c0c0"/>
<rect x="331" y="604" width="1" height="65" fill="#c0c0c0"/>
<rect x="339" y="608" width="1" height="61" fill="#c0c0c0"/>
<rect x="347" y="612" width="1" height="57" fill="#c0c0c0"/>
<rect x="355" y="617" width="1" height="52" fill="#c0c0c0"/>
<rect x="363" y="618" width="1" height="51" fill="#c0c0c0"/>
<rect x="371" y="622" width="1" height="47" fill="#c0c0c0"/>
<rect x="379" y="625" width="1" height="44" fill="#c0c0c0"/>
<rect x="387" y="628" width="1" height="41" fill="#c0c0c0"/>
<rect x="395" y="629" width="1" height="40" fill="#c0c0c0"/>
<rect x="403" y="631" width="1" height="38" fill="#c0c0c0"/>
<rect x="411" y="630" width="1" height="39" fill="#c0c0c0"/>
<rect x="419" y="630" width="1" height="39" fill="#c0c0c0"/>
<rect x="427" y="628" width="1" height="41" fill="#c0c0c0"/>
<rect x="435" y="628" width="1" height="41" fill="#c0c0c0"/>
<rect x="443" y="628" width="1" height="41" fill="#c0c0c0"/>
<rect x="451" y="629" width="1" height="40" fill="#c0c0c0"/>
<rect x="459" y="630" width="1" height="39" fill="#c0c0c0"/>
<rect x="467" y="631" width="1" height="38" fill="#c0c0c0"/>
<rect x="475" y="633" width="1" height="36" fill="#c0c0c0"/>
<rect x="483" y="634" width="1" height="35" fill="#c0c0c0"/>
<rect x="491" y="637" width="1" height="32" fill="#c0c0c0"/>
<rect x="499" y="638" width="1" height="31" fill="#c0c0c0"/>
<rect x="507" y="640" width="1" height="29" fill="#c0c0c0"/>
<rect x="515" y="641" width="1" height="28" fill="#c0c0c0"/>
<rect x="523" y="643" width="1" height="26" fill="#c0c0c0"/>
<rect x="531" y="648" width="1" height="21" fill="#c0c0c0"/>
<rect x="539" y="653" width="1" height="16" fill="#c0c0c0"/>
<rect x="547" y="655" width="1" height="14" fill="#c0c0c0"/>
<rect x="555" y="659" width="1" height="10" fill="#c0c0c0"/>
<rect x="563" y="665" width="1" height="4" fill="#c0c0c0"/>
<rect x="571" y="668" width="1" height="1" fill="#c0c0c0"/>
<rect x="579" y="668" width="1" height="1" fill="#c0c0c0"/>
<rect x="587" y="668" width="1" height="1" fill="#c0c0c0"/>
<rect x="595" y="668" width="1" height="1" fill="#c0c0c0"/>
<rect x="603" y="668" width="1" height="2" fill="#c0c0c0"/>
<rect x="611" y="668" width="1" height="4" fill="#c0c0c0"/>
<rect x="619" y="668" width="1" height="8" fill="#c0c0c0"/>
<rect x="627" y="668" width="1" height="14" fill="#c0c0c0"/>
<rect x="635" y="668" width="1" height="18" fill="#c0c0c0"/>
<rect x="643" y="668" width="1" height="21" fill="#c0c0c0"/>
<rect x="651" y="668" width="1" height="28" fill="#c0c0c0"/>
<rect x="659" y="668" width="1" height="31" fill="#c0c0c0"/>
<rect x="667" y="668" width="1" height="31" fill="#c0c0c0"/>
<rect x="675" y="668" width="1" height="33" fill="#c0c0c0"/>
<rect x="683" y="668" width="1" height="33" fill="#c0c0c0"/>
<rect x="691" y="668" width="1" height="31" fill="#c0c0c0"/>
<rect x="699" y="668" width="1" height="32" fill="#c0c0c0"/>
<rect x="707" y="668" width="1" height="37" fill="#c0c0c0"/>
<rect x="715" y="668" width="1" height="49" fill="#c0c0c0"/>
<rect x="723" y="668" width="1" height="54" fill="#c0c0c0"/>
<rect x="731" y="668" width="1" height="56" fill="#c0c0c0"/>
<rect x="739" y="668" width="1" height="60" fill="#c0c0c0"/>
<rect x="747" y="668" width="1" height="63" fill="#c0c0c0"/>
<rect x="755" y="668" width="1" height="64" fill="#c0c0c0"/>
<rect x="763" y="668" width="1" height="64" fill="#c0c0c0"/>
<rect x="771" y="668" width="1" height="61" fill="#c0c0c0"/>
<rect x="779" y="668" width="1" height="58" fill="#c0c0c0"/>
<rect x="787" y="668" width="1" height="58" fill="#c0c0c0"/>
<rect x="795" y="668" width="1" height="52" fill="#c0c0c0"/>
<rect x="803" y="668" width="1" height="48" fill="#c0c0c0"/>
<rect x="811" y="668" width="1" height="43" fill="#c0c0c0"/>
<rect x="819" y="668" width="1" height="38" fill="#c0c0c0"/>
<rect x="827" y="668" width="1" height="36" fill="#c0c0c0"/>
<rect x="835" y="668" width="1" height="34" fill="#c0c0c0"/>
<rect x="843" y="668" width="1" height="30" fill="#c0c0c0"/>
<rect x="851" y="668" width="1" height="30" fill="#c0c0c0"/>
<rect x="859" y="668" width="1" height="30" fill="#c0c0c0"/>
<rect x="867" y="668" width="1" height="32" fill="#c0c0c0"/>
<rect x="875" y="668" width="1" height="32" fill="#c0c0c0"/>
<rect x="883" y="668" width="1" height="32" fill="#c0c0c0"/>
<rect x="891" y="668" width="1" height="38" fill="#c0c0c0"/>
<rect x="899" y="668" width="1" height="39" fill="#c0c0c0"/>
<rect x="907" y="668" width="1" height="36" fill="#c0c0c0"/>
<rect x="915" y="668" width="1" height="31" fill="#c0c0c0"/>
<rect x="923" y="668" width="1" height="26" fill="#c0c0c0"/>
<rect x="931" y="668" width="1" height="25" fill="#c0c0c0"/>
<rect x="939" y="668" width="1" height="34" fill="#c0c0c0"/>
<rect x="947" y="668" width="1" height="42" fill="#c0c0c0"/>
<rect x="955" y="668" width="1" height="47" fill="#c0c0c0"/>
<rect x="963" y="668" width="1" height="48" fill="#c0c0c0"/>
<rect x="971" y="668" width="1" height="46" fill="#c0c0c0"/>
<rect x="979" y="668" width="1" height="46" fill="#c0c0c0"/>
<rect x="987" y="668" width="1" height="41" fill="#c0c0c0"/>
<rect x="995" y="668" width="1" height="38" fill="#c0c0c0"/>
<rect x="1003" y="668" width="1" height="36" fill="#c0c0c0"/>
<rect x="1011" y="668" width="1" height="33" fill="#c0c0c0"/>
<rect x="1019" y="668" width="1" height="25" fill="#c0c0c0"/>
<rect x="1027" y="668" width="1" height="17" fill="#c0c0c0"/>
<rect x="1035" y="668" width="1" height="4" fill="#c0c0c0"/>
<rect x="1043" y="659" width="1" height="10" fill="#c0c0c0"/>
<rect x="1051" y="650" width="1" height="19" fill="#c0c0c0"/>
<rect x="1059" y="643" width="1" height="26" fill="#c0c0c0"/>
<rect x="1067" y="640" width="1" height="29" fill="#c0c0c0"/>
<rect x="1075" y="633" width="1" height="36" fill="#c0c0c0"/>
<rect x="1083" y="625" width="1" height="44" fill="#c0c0c0"/>
<rect x="1091" y="617" width="1" height="52" fill="#c0c0c0"/>
<rect x="1099" y="612" width="1" height="57" fill="#c0c0c0"/>
<rect x="1107" y="607" width="1" height="62" fill="#c0c0c0"/>
<rect x="1115" y="604" width="1" height="65" fill="#c0c0c0"/>
<rect x="1123" y="601" width="1" height="68" fill="#c0c0c0"/>
<rect x="1131" y="599" width="1" height="70" fill="#c0c0c0"/>
<rect x="1139" y="599" width="1" height="70" fill="#c0c0c0"/>
<rect x="1147" y="599" width="1" height="70" fill="#c0c0c0"/>
<rect x="1155" y="601" width="1" height="68" fill="#c0c0c0"/>
<rect x="1163" y="603" width="1" height="66" fill="#c0c0c0"/>
<rect x="1171" y="608" width="1" height="61" fill="#c0c0c0"/>
<rect x="1179" y="613" width="1" height="56" fill="#c0c0c0"/>
<rect x="1187" y="619" width="1" height="50" fill="#c0c0c0"/>
<rect x="1195" y="626" width="1" height="43" fill="#c0c0c0"/>
<rect x="1203" y="629" width="1" height="40" fill="#c0c0c0"/>
<rect x="1211" y="631" width="1" height="38" fill="#c0c0c0"/>
<rect x="1219" y="634" width="1" height="35" fill="#c0c0c0"/>
<rect x="1227" y="637" width="1" height="32" fill="#c0c0c0"/>
<rect x="1235" y="641" width="1" height="28" fill="#c0c0c0"/>
<rect x="1243" y="643" width="1" height="26" fill="#c0c0c0"/>
<rect x="1251" y="642" width="1" height="27" fill="#c0c0c0"/>
<rect x="1259" y="642" width="1" height="27" fill="#c0c0c0"/>
<rect x="1267" y="643" width="1" height="26" fill="#c0c0c0"/>
<rect x="1275" y="643" width="1" height="26" fill="#c0c0c0"/>
<rect x="1283" y="646" width="1" height="23" fill="#c0c0c0"/>
<rect x="1291" y="647" width="1" height="22" fill="#c0c0c0"/>
<rect x="1299" y="648" width="1" height="21" fill="#c0c0c0"/>
<rect x="1307" y="649" width="1" height="20" fill="#c0c0c0"/>
<rect x="1315" y="647" width="1" height="22" fill="#c0c0c0"/>
<rect x="1323" y="645" width="1" height="24" fill="#c0c0c0"/>
<rect x="1331" y="643" width="1" height="26" fill="#c0c0c0"/>
<rect x="1339" y="642" width="1" height="27" fill="#c0c0c0"/>
<g shape-rendering="crispEdges">
<path d="M0 732.5h2M2 733.5h1M6 734.5h3M12 735.5h2M14 736.5h1M18 737.5h3M24 738.5h3M30 737.5h3M36 736.5h1M37 735.5h2M42 733.5h3M48 731.5h1M49 730.5h2M54 728.5h1M55 727.5h2M60 725.5h1M61 724.5h1M62 723.5h1M66 720.5h1M67 719.5h2M72 716.5h1M73 715.5h1M74 714.5h1M78 712.5h1M79 711.5h1M80 710.5h1M84 708.5h1M85 707.5h1M86 706.5h1M90 704.5h1M91 703.5h1M92 702.5h1M96 700.5h2M98 699.5h1M102 697.5h2M104 696.5h1M108 694.5h2M110 693.5h1M114 692.5h1M115 691.5h2M120 689.5h1M121 688.5h1M122 687.5h1M126 685.5h1M127 684.5h2M132 681.5h2M134 680.5h1M138 678.5h1M139 677.5h1M140 676.5h1M144 674.5h1M145 673.5h2M150 669.5h1M151 668.5h2M156 664.5h1M157 663.5h1M158 662.5h1M161 658.5h1M162 657.5h1M163 656.5h1M167 652.5h1M168 651.5h1M169 650.5h1M172 646.5h1M173 645.5h1M174 644.5h1M178 640.5h1M179 639.5h1M180 638.5h1M184 634.5h1M185.5 632v2M189 628.5h1M190 627.5h1M191 626.5h1M195 622.5h2M197 621.5h1M201 617.5h2M203 616.5h1M207 612.5h2M209 611.5h1M213 608.5h2M215 607.5h1M219 605.5h2M221 604.5h1M225 602.5h3M231 600.5h3M237 598.5h3M243 598.5h3M249 597.5h3M255 597.5h3M261 597.5h3M267 597.5h3M273 597.5h3M279 597.5h3M285 596.5h3M291 596.5h3M297 595.5h3M303 595.5h3M309 595.5h2M311 594.5h1M315 594.5h3M321 594.5h3M327 595.5h3M333 595.5h3M339 596.5h2M341 597.5h1M345 598.5h3M351 599.5h2M353 600.5h1M357 601.5h1M358 602.5h2M363 604.5h3M369 606.5h2M371 607.5h1M375 608.5h1M376 609.5h2M381 611.5h1M382 612.5h2M387 614.5h1M388 615.5h2M393 616.5h1M394 617.5h2M399 619.5h3M405 621.5h2M407 622.5h1M411 623.5h1M412 624.5h2M417 626.5h3M423 626.5h3M429 627.5h3M435 627.5h3M441 627.5h2M443 628.5h1M447 628.5h3M453 628.5h3M459 628.5h3M465 628.5h3M471 628.5h3M477 628.5h2M479 629.5h1M483 629.5h1M484 630.5h2M489 630.5h3M495 631.5h3M501 631.5h3M507 632.5h1M508 633.5h2M513 634.5h3M519 635.5h3M525 635.5h1M526 636.5h2M531 637.5h2M533 638.5h1M537 639.5h1M538 640.5h2M543 641.5h1M544 642.5h2M549 643.5h2M551 644.5h1M555 645.5h1M556 646.5h2M561 648.5h3M567 649.5h1M568 650.5h2M573 652.5h2M575 653.5h1M579 655.5h2M581 656.5h1M585 657.5h3M591 658.5h3M597 660.5h2M599 661.5h1M603 662.5h1M604 663.5h2M609 665.5h3M615 666.5h3M621 667.5h1M622 668.5h2M627 670.5h3M633 672.5h3M639 673.5h1M640 674.5h2M645 675.5h2M647 676.5h1M651 678.5h2M653 679.5h1M657 681.5h2M659 682.5h1M663 684.5h2M665 685.5h1M669 687.5h2M671 688.5h1M675 690.5h2M677 691.5h1M681 692.5h3M687 693.5h1M688 694.5h2M693 696.5h3M699 697.5h1M700 698.5h2M705 699.5h3M711 700.5h1M712 701.5h2M717 702.5h1M718 703.5h2M723 705.5h2M725 706.5h1M729 707.5h1M730 708.5h2M735 709.5h1M736 710.5h2M741 712.5h2M743 713.5h1M747 715.5h2M749 716.5h1M753 718.5h3M759 720.5h2M761 721.5h1M765 722.5h1M766 723.5h2M771 725.5h2M773 726.5h1M777 727.5h3M783 728.5h3M789 728.5h2M791 727.5h1M795 727.5h3M801 726.5h2M803 725.5h1M807 725.5h1M808 724.5h2M813 723.5h2M815 722.5h1M819 721.5h2M821 720.5h1M825 719.5h2M827 718.5h1M831 717.5h1M832 716.5h2M837 714.5h3M843 712.5h1M844 711.5h2M849 709.5h1M850 708.5h2M855 706.5h2M857 705.5h1M861 704.5h1M862 703.5h2M867 702.5h3M873 701.5h3M879 701.5h3M885 700.5h3M891 700.5h3M897 700.5h3M903 700.5h3M909 700.5h3M915 701.5h3M921 701.5h3M927 700.5h3M933 700.5h3M939 701.5h3M945 701.5h3M951 702.5h2M953 703.5h1M957 703.5h2M959 704.5h1M963 704.5h3M969 704.5h1M970 705.5h2M975 705.5h3M981 706.5h3M987 707.5h3M993 708.5h3M999 709.5h3M1005 709.5h3M1011 709.5h3M1017 708.5h1M1018 707.5h2M1023 706.5h1M1024 705.5h2M1029 703.5h1M1030 702.5h2M1035 699.5h2M1037 698.5h1M1041 695.5h1M1042 694.5h1M1043 693.5h1M1047 689.5h1M1048 688.5h2M1053 684.5h1M1054 683.5h1M1055 682.5h1M1059 678.5h1M1060 677.5h1M1061 676.5h1M1065 672.5h1M1066 671.5h1M1067 670.5h1M1071 666.5h2M1073 665.5h1M1077 661.5h1M1078 660.5h1M1079 659.5h1M1083 655.5h1M1084 654.5h1M1085 653.5h1M1089 649.5h1M1090 648.5h1M1091 647.5h1M1095 643.5h1M1096 642.5h1M1097 641.5h1M1100 637.5h1M1101 636.5h1M1102 635.5h1M1106 632.5h1M1107 631.5h2M1112 628.5h1M1113 627.5h1M1114 626.5h1M1118 624.5h1M1119 623.5h1M1120 622.5h1M1124 619.5h1M1125 618.5h2M1130 615.5h1M1131 614.5h2M1136 612.5h1M1137 611.5h2M1142 609.5h1M1143 608.5h2M1148 606.5h3M1154 604.5h3M1160 603.5h3M1166 602.5h3M1172 602.5h3M1178 602.5h3M1184 604.5h3M1190 605.5h1M1191 606.5h2M1196 607.5h2M1198 608.5h1M1202 610.5h2M1204 611.5h1M1208 613.5h2M1210 614.5h1M1214 615.5h1M1215 616.5h2M1220 618.5h2M1222 619.5h1M1226 621.5h2M1228 622.5h1M1232 624.5h2M1234 625.5h1M1238 627.5h2M1240 628.5h1M1244 630.5h2M1246 631.5h1M1250 633.5h3M1256 634.5h1M1257 635.5h2M1262 636.5h3M1268 637.5h3M1274 638.5h3M1280 639.5h1M1281 640.5h2M1286 641.5h3M1292 642.5h3M1298 643.5h3M1304 644.5h3M1310 644.5h3M1316 644.5h3M1322 645.5h3M1328 645.5h3M1334 645.5h3" fill="none" stroke="#ff0000" stroke-width="1"/>
</g>
<line x1="2" y1="789.5" x2="1614" y2="789.5" stroke="#c0c0c0" stroke-width="1" stroke-dasharray="3 3" shape-rendering="crispEdges"/>
<line x1="2" y1="840.5" x2="1614" y2="840.5" stroke="#c0c0c0" stroke-width="1" stroke-dasharray="3 3" shape-rendering="crispEdges"/>
<line x1="2" y1="901.5" x2="1614" y2="901.5" stroke="#c0c0c0" stroke-width="1" stroke-dasharray="3 3" shape-rendering="crispEdges"/>
<path d="M0 874.5h1M1 873.5h1M2.5 871v2M3 870.5h1M4 869.5h2M6 868.5h2M8 867.5h2M10 866.5h3M13 867.5h4M17 868.5h3M19 867.5h1M20.5 865v2M21.5 863v2M22.5 860v3M23.5 858v2M24.5 855v3M25.5 853v2M26.5 851v2M27.5 849v2M28 848.5h1M29 847.5h1M30 846.5h1M31 845.5h1M32 844.5h1M33 843.5h1M34 842.5h1M35 841.5h2M37 842.5h2M39 843.5h3M42 844.5h3M45 843.5h2M47 842.5h3M50 841.5h2M52 842.5h1M53 843.5h1M54 844.5h1M55 845.5h2M57 846.5h1M58 847.5h1M59 848.5h1M60 847.5h2M62 846.5h2M64 845.5h2M66 844.5h2M68.5 842v2M69 841.5h1M70.5 839v2M71 838.5h1M72.5 836v2M73 835.5h1M74.5 833v2M75 832.5h1M76 833.5h2M78 834.5h2M80 835.5h2M82 836.5h2M83 837.5h1M84.5 838v3M85.5 841v3M86.5 844v3M87.5 847v4M88.5 851v3M89.5 854v3M90.5 857v3M91.5 860v2M91 860.5h1M92.5 858v2M93.5 856v2M94.5 854v2M95.5 851v3M96.5 849v2M97.5 847v2M98.5 845v2M99.5 843v2M100 843.5h1M101 842.5h4M105 841.5h3M108.5 839v2M109 838.5h1M110.5 836v2M111 835.5h1M112.5 833v2M113 832.5h1M114.5 830v2M115 829.5h1M116 830.5h2M118 831.5h1M119 832.5h2M121 833.5h2M123.5 833v2M124.5 831v2M125.5 829v2M126.5 826v3M127.5 824v2M128.5 821v3M129.5 819v2M130.5 817v2M131.5 815v2M132 816.5h1M133 817.5h1M134 818.5h1M135 819.5h1M136 820.5h1M137 821.5h1M138 822.5h1M139 823.5h2M141 822.5h2M143 821.5h3M146 820.5h2M148 819.5h2M150 818.5h2M152 817.5h2M154 816.5h3M157 815.5h2M159 814.5h3M162 813.5h3M165 812.5h4M169 811.5h6M175 812.5h8M183 813.5h8M191 812.5h8M199 811.5h6M205 810.5h4M209 809.5h3M212 810.5h2M214 811.5h2M216 812.5h2M218 813.5h3M221 814.5h2M223 815.5h3M226 816.5h5M231 815.5h6M237 814.5h2M239 813.5h3M242 812.5h10M252 811.5h1M253 810.5h1M254 809.5h1M255 808.5h1M256 807.5h1M257 806.5h1M258 805.5h1M259 804.5h2M261 803.5h4M265 802.5h6M271 801.5h6M277 800.5h2M279 799.5h3M282 798.5h3M285 797.5h4M289 796.5h3M292 797.5h1M293.5 798v2M294 800.5h1M295 801.5h1M296 802.5h1M297.5 803v2M298 805.5h1M299 806.5h10M309 805.5h2M311 804.5h3M314 803.5h2M316 804.5h1M317 805.5h2M319 806.5h1M320 807.5h1M321 808.5h2M323 809.5h1M324.5 810v2M325.5 812v2M326.5 814v2M327 816.5h1M328.5 817v2M329.5 819v2M330.5 821v2M331 823.5h1M332 822.5h2M334 821.5h2M336 820.5h2M338 819.5h5M343 818.5h5M348 819.5h1M349 820.5h1M350 821.5h1M351 822.5h2M353 823.5h1M354 824.5h1M355 825.5h1M356 824.5h1M357 823.5h1M358 822.5h1M359 821.5h2M361 820.5h1M362 819.5h1M363 818.5h1M364 819.5h2M366 820.5h1M367 821.5h2M369 822.5h2M371 823.5h2M373 824.5h2M375 825.5h3M378 826.5h3M381 825.5h2M383 824.5h3M386 823.5h3M389 822.5h2M391 821.5h3M394 820.5h5M399 821.5h5M404 820.5h1M405.5 818v2M406 817.5h1M407 816.5h1M408 815.5h1M409.5 813v2M410 812.5h1M411 811.5h10M421 810.5h4M425 809.5h4M429 808.5h4M433 807.5h11M444 808.5h1M445 809.5h1M446 810.5h1M447 811.5h1M448 812.5h1M449 813.5h1M450 814.5h1M451 815.5h4M455 814.5h6M461 815.5h4M465 816.5h4M469 815.5h4M473 814.5h11M484 815.5h1M485 816.5h1M486 817.5h1M487.5 818v2M488 820.5h1M489 821.5h1M490 822.5h1M491 823.5h1M492 822.5h2M494 821.5h1M495 820.5h2M497 819.5h2M499 818.5h1M500 819.5h2M502 820.5h2M504 821.5h2M506 822.5h11M517 821.5h4M521 820.5h3M523 821.5h1M524.5 822v4M525.5 826v3M526.5 829v3M527.5 832v4M528.5 836v3M529.5 839v3M530.5 842v4M531.5 846v2M532 847.5h3M535 846.5h5M540 845.5h1M541 844.5h1M542 843.5h1M543.5 841v2M544 840.5h1M545 839.5h1M546 838.5h1M547 837.5h1M548.5 838v2M549.5 840v2M550.5 842v2M551.5 844v2M552.5 846v2M553.5 848v2M554.5 850v2M555 852.5h1M556 853.5h1M557.5 854v2M558 856.5h1M559 857.5h1M560 858.5h1M561.5 859v2M562 861.5h1M563 862.5h1M564.5 860v2M565.5 858v2M566 857.5h1M567.5 855v2M568 854.5h1M569.5 852v2M570.5 850v2M571 849.5h1M572.5 847v2M573 846.5h1M574 845.5h1M575.5 843v2M576 842.5h1M577 841.5h1M578.5 839v2M579 838.5h2M581 839.5h4M585 840.5h4M589 841.5h4M593 842.5h3M596 843.5h1M597 844.5h1M598 845.5h1M599 846.5h2M601 847.5h1M602 848.5h1M603 849.5h2M605 850.5h4M609 851.5h3M612.5 852v2M613 854.5h1M614 855.5h1M615.5 856v2M616 858.5h1M617 859.5h1M618.5 860v2M619 862.5h1M620 863.5h1M621 864.5h1M622 865.5h1M623 866.5h1M624 867.5h1M625 868.5h1M626 869.5h1M627 870.5h10M637 869.5h2M639 868.5h3M642 867.5h2M644.5 868v2M645.5 870v2M646.5 872v2M647 874.5h1M648.5 875v2M649.5 877v2M650.5 879v2M651 881.5h1M652.5 879v2M653.5 877v2M654.5 875v2M655.5 873v2M656.5 871v2M657.5 869v2M658.5 867v2M659 866.5h1M660 865.5h1M661 864.5h2M663 863.5h1M664 862.5h1M665 861.5h2M667 860.5h1M668 861.5h1M669 862.5h2M671 863.5h1M672 864.5h1M673 865.5h2M675 866.5h1M676 865.5h1M677 864.5h2M679 863.5h1M680 862.5h1M681 861.5h2M683 860.5h1M684 859.5h1M685 858.5h1M686 857.5h1M687 856.5h2M689 855.5h1M690 854.5h1M691 853.5h1M692 854.5h1M693.5 855v2M694 857.5h1M695 858.5h1M696 859.5h1M697.5 860v2M698 862.5h1M699 863.5h1M700 864.5h1M701.5 865v2M702 867.5h1M703 868.5h1M704 869.5h1M705.5 870v2M706 872.5h1M707 873.5h1M708.5 874v2M709.5 876v2M710.5 878v2M711 880.5h1M712.5 881v2M713.5 883v2M714.5 885v2M715.5 886v2M716.5 884v2M717.5 882v2M718.5 880v2M719.5 878v2M720.5 876v2M721.5 874v2M722.5 872v2M723.5 870v2M724 870.5h1M725 869.5h4M729 868.5h3M732 869.5h2M734 870.5h1M735 871.5h2M737 872.5h2M739 873.5h12M751 872.5h8M759 871.5h5M764 870.5h2M766 869.5h1M767 868.5h2M769 867.5h2M771 866.5h1M772 865.5h1M773 864.5h1M774 863.5h1M775 862.5h1M776 861.5h1M777 860.5h1M778 859.5h1M779 858.5h1M780 859.5h1M781 860.5h1M782 861.5h1M783.5 862v2M784 864.5h1M785 865.5h1M786 866.5h1M787.5 866v2M788.5 864v2M789.5 862v2M790.5 860v2M791.5 858v2M792.5 856v2M793.5 854v2M794.5 852v2M795.5 850v2M796 850.5h16M812 849.5h2M814 848.5h1M815 847.5h2M817 846.5h2M819 845.5h1M820 846.5h1M821 847.5h2M823 848.5h1M824 849.5h1M825 850.5h2M827 851.5h4M831 852.5h5M836 851.5h2M838 850.5h1M839 849.5h2M841 848.5h2M843 847.5h1M844 848.5h1M845 849.5h1M846 850.5h1M847 851.5h2M849 852.5h1M850 853.5h1M851 854.5h2M853 855.5h2M855 856.5h3M858 857.5h2M860 858.5h1M861 859.5h2M863 860.5h1M864 861.5h1M865 862.5h2M867 863.5h4M871 864.5h6M877 863.5h2M879 862.5h3M882 861.5h2M884.5 862v2M885 864.5h1M886 865.5h1M887.5 866v2M888 868.5h1M889 869.5h1M890.5 870v2M891 872.5h1M892 871.5h1M893 870.5h1M894 869.5h1M895.5 867v2M896 866.5h1M897 865.5h1M898 864.5h1M899 863.5h1M900 862.5h1M901 861.5h1M902 860.5h1M903.5 858v2M904 857.5h1M905 856.5h1M906 855.5h1M907 854.5h1M908.5 852v2M909.5 850v2M910.5 848v2M911 847.5h1M912.5 845v2M913.5 843v2M914.5 841v2M915 840.5h2M917 841.5h4M921 842.5h3M924 843.5h1M925 844.5h1M926 845.5h1M927 846.5h1M928 847.5h1M929 848.5h1M930 849.5h1M931.5 850v2M932.5 852v3M933.5 855v2M934.5 857v3M935.5 860v3M936.5 863v3M937.5 866v2M938.5 868v3M939.5 871v2M940 872.5h1M941 873.5h4M945 874.5h4M949 873.5h2M951 872.5h3M954 871.5h2M956.5 869v2M957 868.5h1M958 867.5h1M959.5 865v2M960 864.5h1M961 863.5h1M962.5 861v2M963 860.5h1M964 859.5h2M966 858.5h1M967 857.5h2M969 856.5h2M971 855.5h1M972 856.5h2M974 857.5h2M976 858.5h2M978 859.5h2M980.5 857v2M981 856.5h1M982 855.5h1M983.5 853v2M984 852.5h1M985 851.5h1M986.5 849v2M987 848.5h4M991 849.5h6M997 850.5h2M999 851.5h3M1002 852.5h2M1004 851.5h2M1006 850.5h1M1007 849.5h2M1009 848.5h2M1011 847.5h1M1012.5 845v2M1013.5 843v2M1014.5 841v2M1015 840.5h1M1016.5 838v2M1017.5 836v2M1018.5 834v2M1019 833.5h1M1020 832.5h2M1022 831.5h2M1024 830.5h2M1026 829.5h2M1028.5 827v2M1029.5 825v2M1030 824.5h1M1031.5 822v2M1032 821.5h1M1033.5 819v2M1034.5 817v2M1035 816.5h1M1036 815.5h2M1038 814.5h1M1039 813.5h2M1041 812.5h2M1043 811.5h1M1044 812.5h2M1046 813.5h2M1048 814.5h2M1050 815.5h10M1060 816.5h1M1061 817.5h1M1062 818.5h1M1063 819.5h1M1064 820.5h1M1065 821.5h1M1066 822.5h1M1067 823.5h1M1068 822.5h1M1069.5 820v2M1070 819.5h1M1071 818.5h1M1072 817.5h1M1073.5 815v2M1074 814.5h1M1075 813.5h1M1076 812.5h1M1077 811.5h2M1079 810.5h1M1080 809.5h1M1081 808.5h2M1083 807.5h2M1085 806.5h4M1089 805.5h6M1095 806.5h6M1101 805.5h4M1105 804.5h6M1111 803.5h14M1125 802.5h4M1129 801.5h12M1141 802.5h4M1145 803.5h3M1148 804.5h2M1150 805.5h1M1151 806.5h2M1153 807.5h2M1155 808.5h4M1159 807.5h5M1164 808.5h1M1165.5 809v2M1166 811.5h1M1167 812.5h1M1168 813.5h1M1169.5 814v2M1170 816.5h1M1171 817.5h1M1172 818.5h1M1173 819.5h2M1175 820.5h1M1176 821.5h1M1177 822.5h2M1179 823.5h1M1180 824.5h2M1182 825.5h2M1184 826.5h2M1186 827.5h2M1188 828.5h1M1189.5 829v2M1190 831.5h1M1191 832.5h1M1192 833.5h1M1193.5 834v2M1194 836.5h1M1195 837.5h1M1196 836.5h1M1197 835.5h1M1198 834.5h1M1199.5 832v2M1200 831.5h1M1201 830.5h1M1202 829.5h1M1203 828.5h1M1204 827.5h2M1206 826.5h2M1208 825.5h2M1210 824.5h3M1213 825.5h2M1215 826.5h3M1218 827.5h2M1220 828.5h2M1222 829.5h2M1224 830.5h2M1226 831.5h2M1228 832.5h2M1230 833.5h2M1232 834.5h2M1234 835.5h2M1236 834.5h1M1237 833.5h2M1239 832.5h1M1240 831.5h1M1241 830.5h2M1243 829.5h1M1244 828.5h1M1245 827.5h1M1246 826.5h1M1247 825.5h1M1248 824.5h1M1249 823.5h1M1250 822.5h1M1251 821.5h2M1253 820.5h4M1257 819.5h3M1260 820.5h1M1261 821.5h2M1263 822.5h1M1264 823.5h1M1265 824.5h2M1267 825.5h1M1268 824.5h2M1270 823.5h2M1272 822.5h2M1274 821.5h2M1276.5 822v2M1277.5 824v2M1278.5 826v2M1279.5 828v2M1280.5 830v2M1281.5 832v2M1282.5 834v2M1283.5 836v2M1284 836.5h1M1285 835.5h1M1286 834.5h1M1287 833.5h2M1289 832.5h1M1290 831.5h1M1291 830.5h4M1295 831.5h5M1300 830.5h2M1302 829.5h2M1304 828.5h2M1306 827.5h2M1308 826.5h2M1310 825.5h1M1311 824.5h2M1313 823.5h2M1315 822.5h1M1316 821.5h2M1318 820.5h2M1320 819.5h2M1322 818.5h2M1324 817.5h2M1326 816.5h1M1327 815.5h2M1329 814.5h2M1331 813.5h9" fill="none" stroke="#1e90ff" stroke-width="1"/>
<rect x="1615" y="81" width="2" height="1" fill="#000"/>
<rect x="1615" y="147" width="2" height="1" fill="#000"/>
<rect x="1615" y="180" width="2" height="1" fill="#000"/>
<rect x="1615" y="213" width="2" height="1" fill="#000"/>
<rect x="1615" y="246" width="2" height="1" fill="#000"/>
<rect x="1615" y="279" width="2" height="1" fill="#000"/>
<rect x="1615" y="312" width="2" height="1" fill="#000"/>
<rect x="1615" y="345" width="2" height="1" fill="#000"/>
<rect x="1615" y="378" width="2" height="1" fill="#000"/>
<rect x="1615" y="411" width="2" height="1" fill="#000"/>
<rect x="1615" y="444" width="2" height="1" fill="#000"/>
<rect x="1615" y="477" width="2" height="1" fill="#000"/>
<rect x="1615" y="510" width="2" height="1" fill="#000"/>
<rect x="1615" y="543" width="2" height="1" fill="#000"/>
<rect x="1615" y="576" width="2" height="1" fill="#000"/>
<rect x="1615" y="48" width="2" height="1" fill="#000"/>
<rect x="1615" y="114" width="2" height="1" fill="#000"/>
<rect x="59" y="928" width="1" height="3" fill="#000"/>
<rect x="123" y="928" width="1" height="3" fill="#000"/>
<rect x="187" y="928" width="1" height="3" fill="#000"/>
<rect x="251" y="928" width="1" height="3" fill="#000"/>
<rect x="315" y="928" width="1" height="3" fill="#000"/>
<rect x="379" y="928" width="1" height="3" fill="#000"/>
<rect x="443" y="928" width="1" height="3" fill="#000"/>
<rect x="507" y="928" width="1" height="3" fill="#000"/>
<rect x="571" y="928" width="1" height="3" fill="#000"/>
<rect x="635" y="928" width="1" height="3" fill="#000"/>
<rect x="699" y="928" width="1" height="3" fill="#000"/>
<rect x="763" y="928" width="1" height="3" fill="#000"/>
<rect x="827" y="928" width="1" height="3" fill="#000"/>
<rect x="891" y="928" width="1" height="3" fill="#000"/>
<rect x="955" y="928" width="1" height="3" fill="#000"/>
<rect x="1019" y="928" width="1" height="3" fill="#000"/>
<rect x="1083" y="928" width="1" height="3" fill="#000"/>
<rect x="1147" y="928" width="1" height="3" fill="#000"/>
<rect x="1211" y="928" width="1" height="3" fill="#000"/>
<rect x="1275" y="928" width="1" height="3" fill="#000"/>
<rect x="1339" y="928" width="1" height="3" fill="#000"/>
</svg>
<svg class="abs" style="left:0;top:0" width="1661" height="26" viewBox="0 0 1661 26">
<defs>
<linearGradient id="gold" x1="0" y1="0" x2="1" y2="1"><stop offset="0" stop-color="#fbe26a"/><stop offset="0.5" stop-color="#eab818"/><stop offset="1" stop-color="#b97c12"/></linearGradient>
<linearGradient id="blu" x1="0" y1="0" x2="0" y2="1"><stop offset="0" stop-color="#35b4ff"/><stop offset="1" stop-color="#0a7ee8"/></linearGradient>
<linearGradient id="cld" x1="0" y1="0" x2="0" y2="1"><stop offset="0" stop-color="#ffffff"/><stop offset="1" stop-color="#b9c9e6"/></linearGradient>
<linearGradient id="grn" x1="0" y1="0" x2="0" y2="1"><stop offset="0" stop-color="#5fc22e"/><stop offset="1" stop-color="#2f9a12"/></linearGradient>
<linearGradient id="bl2" x1="0" y1="0" x2="0" y2="1"><stop offset="0" stop-color="#4a7df0"/><stop offset="1" stop-color="#1848c8"/></linearGradient>
</defs>
<!-- new order green bit -->
<rect x="0" y="13" width="1.5" height="4" fill="#1c9a1c"/>
<!-- book -->
<path d="M52.2,11.6 L57.4,3.2 L67.3,9.2 L67.6,12.6 L59.4,17.8 Z" fill="url(#gold)" stroke="#a8691a" stroke-width="1" stroke-linejoin="round"/>
<path d="M52.2,11.6 L59.3,15.4 L67.4,10 L67.6,12.6 L59.4,17.8 Z" fill="#b9821c" stroke="#96600f" stroke-width="0.6" stroke-linejoin="round"/><path d="M53.4,12.9 L59.4,16.5 L67.2,11.4" fill="none" stroke="#f4dc90" stroke-width="0.7"/>
<!-- server + cloud -->
<path d="M82.4,2.6 L93,2.6 L93.2,10.8 L82.4,11.5 Z" fill="url(#blu)"/>
<path d="M82.4,2.6 L85.6,4.6 L85.6,11.6 L82.4,11.5 Z" fill="#0a90f8"/>
<rect x="86.8" y="5.6" width="5" height="1.3" fill="#e8f6ff"/><rect x="86.8" y="8" width="5" height="1.2" fill="#bfe4ff"/>
<path d="M83,17.4 C79.6,17.4 79.4,13.4 82.6,13 C83,10.2 87.2,9.8 88.4,11.8 C90.4,10.4 93.2,11.4 93.4,13.4 C96.6,13.4 96.8,17.4 93.6,17.4 Z" fill="url(#cld)" stroke="#4867a8" stroke-width="1"/>
<!-- signal -->
<g fill="none" stroke-width="0.9" opacity="0.85">
<path d="M115.9,6.7 A2.9,2.9 0 0 0 115.9,12.5" stroke="#2f5fd0"/><path d="M115.9,4.3 A5.3,5.3 0 0 0 115.9,14.9" stroke="#5f86dc"/><path d="M115.9,1.9 A7.7,7.7 0 0 0 115.9,17.3" stroke="#86a4e6"/>
<path d="M115.9,6.7 A2.9,2.9 0 0 1 115.9,12.5" stroke="#5a9a62"/><path d="M115.9,4.3 A5.3,5.3 0 0 1 115.9,14.9" stroke="#6fae74"/><path d="M115.9,1.9 A7.7,7.7 0 0 1 115.9,17.3" stroke="#8cc090"/>
</g>
<circle cx="115.9" cy="9.3" r="1.7" fill="#2450c8"/><rect x="116" y="10" width="1.8" height="7.4" fill="#22a422"/>
<!-- autotrade -->
<path d="M136.5,9 L150,9 L143,17.2 L140,17 Z" fill="#f6d23a" stroke="#d8a818" stroke-width="0.6"/>
<ellipse cx="142.8" cy="7.6" rx="7.6" ry="2.6" fill="#3f9fe0"/><ellipse cx="142.6" cy="5.2" rx="4" ry="2.6" fill="#5bb4ec"/>
<circle cx="147.5" cy="13.6" r="3.9" fill="#e02010"/><rect x="146" y="12.1" width="3" height="3" fill="#fff"/>
<!-- axes helper icons -->
<g stroke="#505050" stroke-width="1.1" fill="#505050">
<path d="M229.5,4.5V17.5M227,15.7H240" fill="none"/><path d="M229.5,3.6l-1.6,2.4h3.2zM241.3,15.7l-2.4,-1.6v3.2z" stroke="none"/>
<path d="M257.5,4.5V17.5M255,15.7H268" fill="none"/><path d="M257.5,3.6l-1.6,2.4h3.2zM269.3,15.7l-2.4,-1.6v3.2z" stroke="none"/>
<path d="M285.5,4.5V17.5M283,15.7H296" fill="none"/><path d="M285.5,3.6l-1.6,2.4h3.2zM297.3,15.7l-2.4,-1.6v3.2z" stroke="none"/>
<path d="M409.5,4.5V17.5M407,15.7H420" fill="none"/><path d="M409.5,3.6l-1.6,2.4h3.2zM421.3,15.7l-2.4,-1.6v3.2z" stroke="none"/>
<path d="M437.5,4.5V17.5M435,15.7H448" fill="none"/><path d="M437.5,3.6l-1.6,2.4h3.2zM449.3,15.7l-2.4,-1.6v3.2z" stroke="none"/>
</g>
<path d="M235.5,5.4V13M235.5,6.4H237.6M233.4,12.6H235.5" stroke="#1f9a1f" stroke-width="1.3" fill="none"/>
<path d="M263.5,2.2V13.6" stroke="#0c7a0c" stroke-width="1.1"/><rect x="261.2" y="4.4" width="4.6" height="7" fill="#28d028" stroke="#0c8a0c" stroke-width="0.8"/>
<path d="M284.2,12.6 C287,10 289,7 291,7.2 C293,7.6 294.5,9.8 296,10.8" stroke="#1f9a1f" stroke-width="1.3" fill="none"/>
<path d="M414,6.4 L418.4,9.5 L414,12.6 Z" fill="#2fc02f" stroke="#1a9a1a" stroke-width="0.8"/>
<path d="M443.5,3.8V14" stroke="#1a66b0" stroke-width="1.2"/><path d="M444.4,9.5 L447.4,7.4 V8.9 H449.4 V10.1 H447.4 V11.6 Z" fill="#e03a10"/>
<!-- zoom in / out -->
<g>
<path d="M325,12 L330.6,16.9" stroke="#c79a1e" stroke-width="2.6" stroke-linecap="round"/><path d="M325.4,11.8 L330.4,16.2" stroke="#f3dc7a" stroke-width="0.9" stroke-linecap="round"/>
<circle cx="321.3" cy="8" r="5.4" fill="#d4ecfa" stroke="#3b8de0" stroke-width="1.2"/><path d="M318.3,8H324.3M321.3,5V11" stroke="#2d7fd6" stroke-width="1.6"/>
<path d="M352.6,11.8 L358.2,16.9" stroke="#c79a1e" stroke-width="2.6" stroke-linecap="round"/><path d="M353,11.6 L358,16.2" stroke="#f3dc7a" stroke-width="0.9" stroke-linecap="round"/>
<circle cx="348.9" cy="7.8" r="5.4" fill="#d4ecfa" stroke="#3b8de0" stroke-width="1.2"/><path d="M345.9,7.8H351.9" stroke="#2d7fd6" stroke-width="1.6"/>
</g>
<!-- tile -->
<rect x="371.2" y="2.2" width="7.6" height="7.6" fill="url(#grn)"/><rect x="379.2" y="2.2" width="7.6" height="7.6" fill="url(#bl2)"/>
<rect x="371.2" y="10.2" width="7.6" height="7.6" fill="url(#bl2)"/><rect x="379.2" y="10.2" width="7.6" height="7.6" fill="url(#grn)"/>
<g fill="#eaf6ea"><rect x="372.6" y="5.4" width="4.8" height="3"/><rect x="380.6" y="5.4" width="4.8" height="3"/><rect x="372.6" y="13.4" width="4.8" height="3"/><rect x="380.6" y="13.4" width="4.8" height="3"/></g>
<!-- indicators -->
<path d="M468.5,3 H476.5 L479.6,6 V15 H468.5 Z" fill="#f4f4f4" stroke="#8a8a8a" stroke-width="0.9"/><path d="M473.4,5.4 C471.4,5 471.4,6.6 471.6,8 V11.6 M470.4,8.2H473" stroke="#404040" stroke-width="0.9" fill="none"/>
<path d="M471.8,14.1H484M477.9,8.2V20" stroke="#16a016" stroke-width="4.2"/><path d="M472.6,14.1H483.2M477.9,9V19.2" stroke="#34d834" stroke-width="2.2"/>
<path d="M489.8,9.3h5.4l-2.7,2.7z M528.8,9.3h5.4l-2.7,2.7z M567.8,9.3h5.4l-2.7,2.7z M873.7,9.2h5.4l-2.7,2.7z" fill="#000"/>
<!-- clock -->
<circle cx="514" cy="9.8" r="7" fill="#f4f8ff" stroke="#1668cc" stroke-width="2.2"/><circle cx="514" cy="9.8" r="5.4" fill="none" stroke="#7fb4f0" stroke-width="0.8"/>
<path d="M513.6,5.6V10.2H517" stroke="#404040" stroke-width="1.1" fill="none"/>
<!-- template -->
<rect x="545.5" y="3.6" width="15.2" height="13" fill="#fff" stroke="#3a78d8" stroke-width="1.1"/><rect x="545.5" y="3.6" width="15.2" height="2" fill="#5a98ee"/><path d="M546,10.8H560.4" stroke="#3a78d8" stroke-width="1"/>
<path d="M547.6,9 L550.4,8.4 L552.4,7.6 L555,8.2 L559,7" stroke="#b02a10" stroke-width="1.1" fill="none"/><path d="M547.6,14.4 L550.6,13.2 L552.6,14 L555.6,12.4 L559,14" stroke="#1f9a1f" stroke-width="1.1" fill="none"/>
<!-- cursor -->
<path d="M597.2,3.2 V14.6 L599.8,12.2 L602,17 L603.8,16.2 L601.6,11.6 L605.2,11.4 Z" fill="#404040"/>
<path d="M622,10.5H637M629.5,3.3V18" stroke="#505050" stroke-width="1"/>
<!-- line tools -->
<path d="M663.5,4V17M686,10.5H698M713.8,16.6L726,5" stroke="#505050" stroke-width="1.2" fill="none"/>
<g stroke="#505050" stroke-width="1" fill="none"><path d="M740.4,11.4L751,3.4M741.8,16.4L753.4,7.6M743.6,8.6l1.6,6M746.6,6.4l1.6,6M749.6,4.2l1.6,6"/></g>
<text x="750.2" y="18.6" font-family="Liberation Sans,sans-serif" font-size="7" font-weight="bold" fill="#303030">E</text>
<g stroke="#505050" stroke-width="1" stroke-dasharray="1 1"><path d="M769,3.5H782M769,7.2H782M769,10.9H782M769,14.6H777"/></g>
<text x="778.4" y="18.8" font-family="Liberation Sans,sans-serif" font-size="7" font-weight="bold" fill="#303030">F</text>
<text x="799.2" y="15" font-family="Liberation Sans,sans-serif" font-size="12.4" fill="#505050" stroke="#505050" stroke-width="0.3">A</text>
<rect x="826.5" y="4.5" width="11.5" height="12" fill="none" stroke="#505050" stroke-width="1" stroke-dasharray="1 1"/><path d="M828.4,6.6H836.2M832.3,6.6V15" stroke="#505050" stroke-width="1.8" fill="none"/>
<path d="M856.6,4.4l2.8,2.6l-2.8,2.6l-2.8,-2.6zM864,11.6l2.8,2.6l-2.8,2.6l-2.8,-2.6z" fill="#404040"/><path d="M855,11.2l2.4,2.4l5.6,-6.2" stroke="#404040" stroke-width="1.4" fill="none"/>
<!-- search -->
<circle cx="1616.6" cy="7.5" r="3.5" fill="#f4f7ff" stroke="#2a5fd8" stroke-width="1.3"/><path d="M1613.6,10.4L1609.2,14.4" stroke="#2a5fd8" stroke-width="2.2" stroke-linecap="round"/>
<!-- chat -->
<path d="M1647,3.2c4.6,0 8,2 8,4.6c0,2.2-2.2,3.8-5,4.4l1.2,2.2l-3.6-2c-4.6,0.2-8.2-1.8-8.2-4.6c0-2.6 3.2-4.6 7.6-4.6z" fill="#f2f2f4" stroke="#858585" stroke-width="1.1"/>
<path d="M1640,8c-3,0-5.2,1.4-5.2,3.2c0,1.4 1.2,2.6 3.2,3l-0.6,2l2.6-1.8c3,0.2 5.2-1.2 5.2-3.2c0-1.8-2.2-3.2-5.2-3.2z" fill="#fafafa" stroke="#858585" stroke-width="1.1"/>
</svg>

<div class="abs" style="left:10px;top:29px;font-size:10px;line-height:12px;letter-spacing:-0.27px;">USDJPY-,H4&nbsp; 110.074 110.104 110.059 110.075</div>
<div class="abs" style="left:0;top:33px;width:0;height:0;border-left:3px solid transparent;border-right:3px solid transparent;border-bottom:4px solid #000"></div>
<div class="abs" style="left:0;top:585px;font-size:10px;line-height:12px;letter-spacing:-0.3px;">MACD(12,26,9) 0.1094 0.0936</div>
<div class="abs" style="left:0;top:757px;font-size:10px;line-height:12px;letter-spacing:-0.37px;">RSI(14) 65.8156</div>
<div class="ax" style="top:77px">110.145</div>
<div class="ax" style="top:143px">109.800</div>
<div class="ax" style="top:176px">109.630</div>
<div class="ax" style="top:209px">109.460</div>
<div class="ax" style="top:242px">109.290</div>
<div class="ax" style="top:275px">109.120</div>
<div class="ax" style="top:308px">108.950</div>
<div class="ax" style="top:341px">108.780</div>
<div class="ax" style="top:374px">108.605</div>
<div class="ax" style="top:407px">108.435</div>
<div class="ax" style="top:440px">108.265</div>
<div class="ax" style="top:473px">108.095</div>
<div class="ax" style="top:506px">107.925</div>
<div class="ax" style="top:539px">107.755</div>
<div class="ax" style="top:572px">107.585</div>
<div class="ax" style="top:44px">110.315</div>
<div class="ax" style="top:110px">109.970</div>
<div class="tag" style="top:40px;background:#ff0000">110.322</div>
<div class="tag" style="top:59px;background:#ff0000">110.224</div>
<div class="tag" style="top:89px;background:#000">110.075</div>
<div class="tag" style="top:107px;background:#32cd32">109.976</div>
<div class="tag" style="top:133px;background:#0000ff">109.842</div>
<div class="tag" style="top:158px;background:#0000ff">109.713</div>
<div class="ax" style="left:1618px;top:584.3px">0.3419</div>
<div class="ax" style="left:1618px;top:664.3px">0.00</div>
<div class="ax" style="left:1618px;top:740.3px">-0.3301</div>
<div class="ax" style="left:1618px;top:756.3px">100</div>
<div class="ax" style="left:1618px;top:785.3px">80</div>
<div class="ax" style="left:1618px;top:836.3px">50</div>
<div class="ax" style="left:1618px;top:897.3px">15</div>
<div class="ax" style="left:1618px;top:916.3px">0</div>
<div class="tm" style="left:-6px">6 Jan 2020</div>
<div class="tm" style="left:58px">7 Jan 04:00</div>
<div class="tm" style="left:122px">8 Jan 12:00</div>
<div class="tm" style="left:186px">9 Jan 20:00</div>
<div class="tm" style="left:250px">13 Jan 04:00</div>
<div class="tm" style="left:314px">14 Jan 12:00</div>
<div class="tm" style="left:378px">15 Jan 20:00</div>
<div class="tm" style="left:442px">17 Jan 04:00</div>
<div class="tm" style="left:506px">20 Jan 12:00</div>
<div class="tm" style="left:570px">21 Jan 20:00</div>
<div class="tm" style="left:634px">23 Jan 04:00</div>
<div class="tm" style="left:698px">24 Jan 12:00</div>
<div class="tm" style="left:762px">27 Jan 20:00</div>
<div class="tm" style="left:826px">29 Jan 04:00</div>
<div class="tm" style="left:890px">30 Jan 12:00</div>
<div class="tm" style="left:954px">2 Feb 23:00</div>
<div class="tm" style="left:1018px">4 Feb 04:00</div>
<div class="tm" style="left:1082px">5 Feb 12:00</div>
<div class="tm" style="left:1146px">6 Feb 20:00</div>
<div class="tm" style="left:1210px">10 Feb 04:00</div>
<div class="tm" style="left:1274px">11 Feb 12:00</div>
<div class="tm" style="left:1338px">12 Feb 20:00</div>
<div class="abs" style="left:1464.5px;top:102px;font-size:21px;line-height:23px;color:#ff0000;letter-spacing:-1px">109.976</div>
<div class="abs" style="left:1426px;top:139px;font-family:'Liberation Serif','Noto Serif CJK SC',serif;font-weight:600;font-size:32.4px;line-height:38px;color:#00f000;text-shadow:1px 1px 0 #053">多空转折点</div>
<div class="abs" style="left:0;top:46px;width:217px;height:64px;background:#fff">
<div class="abs" style="left:0;top:0;width:49px;height:24px;background:linear-gradient(#ff5353,#e33434);color:#fff;font-size:11.5px;line-height:23px;text-align:center;text-indent:-2px">SELL</div>
<div class="abs" style="left:2px;top:23px;width:44px;height:1px;background:#f08080"></div>
<div class="abs" style="left:166px;top:0;width:51px;height:24px;background:linear-gradient(#ff5353,#e33434);color:#fff;font-size:11.5px;line-height:23px;text-align:center;text-indent:-2px">BUY</div>
<div class="abs" style="left:169px;top:23px;width:44px;height:1px;background:#f08080"></div>
<div class="abs" style="left:52px;top:0;width:111px;height:22px;box-sizing:border-box;border:1px solid #a9b0bb;background:#fff"></div>
<div class="abs" style="left:53px;top:1px;width:20px;height:20px;background:linear-gradient(#f2f2f4,#c8ccd4);box-sizing:border-box;border:1px solid #b8bcc4"></div>
<div class="abs" style="left:141px;top:1px;width:21px;height:20px;background:linear-gradient(#f2f2f4,#c8ccd4);box-sizing:border-box;border:1px solid #b8bcc4"></div>
<div class="abs" style="left:60px;top:9px;width:0;height:0;border-left:2.5px solid transparent;border-right:2.5px solid transparent;border-top:3px solid #4a62b8"></div>
<div class="abs" style="left:148px;top:9px;width:0;height:0;border-left:2.5px solid transparent;border-right:2.5px solid transparent;border-bottom:3px solid #4a62b8"></div>
<div class="abs" style="left:74px;top:2px;width:64px;height:18px;text-align:right;font-size:12.5px;line-height:18px;color:#101030">1.00</div>
<div class="abs" style="left:0;top:24px;width:107px;height:40px;background:linear-gradient(#e03030,#b40000)"></div>
<div class="abs" style="left:109px;top:24px;width:108px;height:40px;background:linear-gradient(#e03030,#b40000)"></div>
<div class="abs" style="left:21px;top:45px;font-size:11px;letter-spacing:0.55px;font-weight:bold;color:#fff;line-height:12px">110</div>
<div class="abs" style="left:45px;top:26px;font-size:33.5px;color:#fff;line-height:34px;letter-spacing:-0.5px">07</div>
<div class="abs" style="left:85px;top:29px;font-size:11px;font-weight:bold;color:#fff;line-height:12px">5</div>
<div class="abs" style="left:131px;top:45px;font-size:11px;letter-spacing:0.55px;font-weight:bold;color:#fff;line-height:12px">110</div>
<div class="abs" style="left:156px;top:26px;font-size:33.5px;color:#fff;line-height:34px;letter-spacing:-0.5px">09</div>
<div class="abs" style="left:197px;top:29px;font-size:11px;font-weight:bold;color:#fff;line-height:12px">1</div>
</div>
</body></html>
